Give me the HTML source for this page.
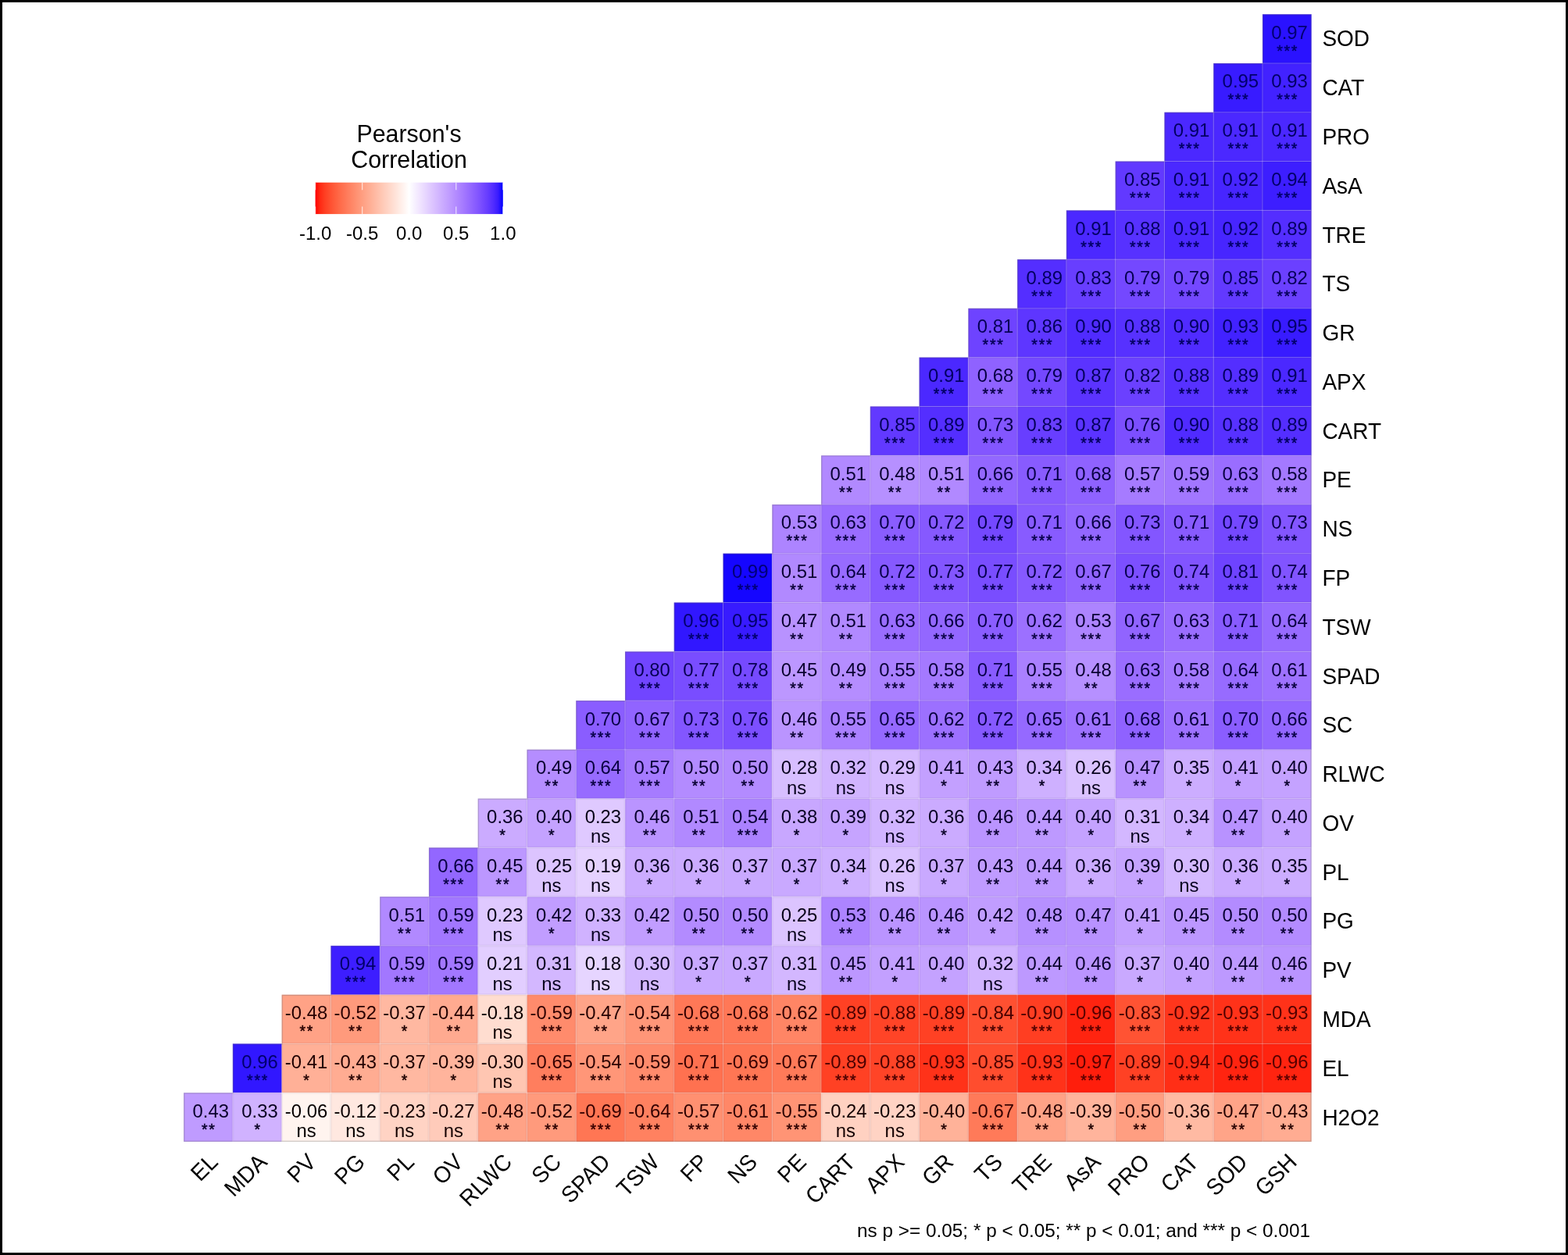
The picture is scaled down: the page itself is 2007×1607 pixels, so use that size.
<!DOCTYPE html>
<html lang="en">
<head>
<meta charset="utf-8">
<title>Pearson's Correlation heatmap</title>
<style>
html,body{margin:0;padding:0;background:#fff;}
body{width:2007px;height:1607px;overflow:hidden;position:relative;}
#frame{position:absolute;left:0;top:0;width:2007px;height:1607px;box-sizing:border-box;border:3px solid #000;background:#fff;}
svg{position:absolute;left:0;top:0;}
text{font-family:"Liberation Sans",sans-serif;fill:#000;}
.v{font-size:23.9px;text-anchor:middle;}
.n{font-size:23.9px;text-anchor:middle;}
.s{font-size:19.6px;text-anchor:middle;letter-spacing:1.7px;stroke:#000;stroke-width:0.45px;}
.yl{font-size:28px;text-anchor:start;}
.xl{font-size:28px;text-anchor:end;}
.lt{font-size:30.4px;text-anchor:middle;}
.ll{font-size:24px;text-anchor:middle;}
.cap{font-size:24.35px;text-anchor:end;}
</style>
</head>
<body>
<div id="frame"></div>
<svg width="2007" height="1607" viewBox="0 0 2007 1607">
<defs>
<linearGradient id="lg" x1="0" y1="0" x2="1" y2="0">
<stop offset="0.00%" stop-color="#ff0000"/>
<stop offset="2.50%" stop-color="#ff2913"/>
<stop offset="5.00%" stop-color="#ff3e22"/>
<stop offset="7.50%" stop-color="#ff4d2e"/>
<stop offset="10.00%" stop-color="#ff5b3a"/>
<stop offset="12.50%" stop-color="#ff6846"/>
<stop offset="15.00%" stop-color="#ff7352"/>
<stop offset="17.50%" stop-color="#ff7e5e"/>
<stop offset="20.00%" stop-color="#ff8969"/>
<stop offset="22.50%" stop-color="#ff9475"/>
<stop offset="25.00%" stop-color="#ff9e81"/>
<stop offset="27.50%" stop-color="#ffa88d"/>
<stop offset="30.00%" stop-color="#ffb299"/>
<stop offset="32.50%" stop-color="#ffbca6"/>
<stop offset="35.00%" stop-color="#ffc6b2"/>
<stop offset="37.50%" stop-color="#ffcfbf"/>
<stop offset="40.00%" stop-color="#ffd9cb"/>
<stop offset="42.50%" stop-color="#ffe2d8"/>
<stop offset="45.00%" stop-color="#ffece5"/>
<stop offset="47.50%" stop-color="#fff5f2"/>
<stop offset="50.00%" stop-color="#ffffff"/>
<stop offset="52.50%" stop-color="#f8f3ff"/>
<stop offset="55.00%" stop-color="#f2e7ff"/>
<stop offset="57.50%" stop-color="#ebdcff"/>
<stop offset="60.00%" stop-color="#e3d0ff"/>
<stop offset="62.50%" stop-color="#dcc4ff"/>
<stop offset="65.00%" stop-color="#d4b9ff"/>
<stop offset="67.50%" stop-color="#ccadff"/>
<stop offset="70.00%" stop-color="#c4a2ff"/>
<stop offset="72.50%" stop-color="#bc97ff"/>
<stop offset="75.00%" stop-color="#b38bff"/>
<stop offset="77.50%" stop-color="#aa80ff"/>
<stop offset="80.00%" stop-color="#a074ff"/>
<stop offset="82.50%" stop-color="#9569ff"/>
<stop offset="85.00%" stop-color="#8a5dff"/>
<stop offset="87.50%" stop-color="#7e52ff"/>
<stop offset="90.00%" stop-color="#7145ff"/>
<stop offset="92.50%" stop-color="#6239ff"/>
<stop offset="95.00%" stop-color="#502bff"/>
<stop offset="97.50%" stop-color="#381bff"/>
<stop offset="100.00%" stop-color="#0000ff"/>
</linearGradient>
</defs>
<g stroke="none">
<rect x="1615.93" y="18.20" width="62.77" height="63.07" fill="#2a12ff"/>
<rect x="1553.17" y="80.97" width="63.07" height="63.07" fill="#381bff"/>
<rect x="1615.93" y="80.97" width="62.77" height="63.07" fill="#4222ff"/>
<rect x="1490.40" y="143.75" width="63.07" height="63.07" fill="#4b28ff"/>
<rect x="1553.17" y="143.75" width="63.07" height="63.07" fill="#4b28ff"/>
<rect x="1615.93" y="143.75" width="62.77" height="63.07" fill="#4b28ff"/>
<rect x="1427.64" y="206.52" width="63.07" height="63.07" fill="#6239ff"/>
<rect x="1490.40" y="206.52" width="63.07" height="63.07" fill="#4b28ff"/>
<rect x="1553.17" y="206.52" width="63.07" height="63.07" fill="#4725ff"/>
<rect x="1615.93" y="206.52" width="62.77" height="63.07" fill="#3d1eff"/>
<rect x="1364.87" y="269.30" width="63.07" height="63.07" fill="#4b28ff"/>
<rect x="1427.64" y="269.30" width="63.07" height="63.07" fill="#5731ff"/>
<rect x="1490.40" y="269.30" width="63.07" height="63.07" fill="#4b28ff"/>
<rect x="1553.17" y="269.30" width="63.07" height="63.07" fill="#4725ff"/>
<rect x="1615.93" y="269.30" width="62.77" height="63.07" fill="#542eff"/>
<rect x="1302.11" y="332.07" width="63.07" height="63.07" fill="#542eff"/>
<rect x="1364.87" y="332.07" width="63.07" height="63.07" fill="#683eff"/>
<rect x="1427.64" y="332.07" width="63.07" height="63.07" fill="#7448ff"/>
<rect x="1490.40" y="332.07" width="63.07" height="63.07" fill="#7448ff"/>
<rect x="1553.17" y="332.07" width="63.07" height="63.07" fill="#6239ff"/>
<rect x="1615.93" y="332.07" width="62.77" height="63.07" fill="#6b40ff"/>
<rect x="1239.34" y="394.84" width="63.07" height="63.07" fill="#6e43ff"/>
<rect x="1302.11" y="394.84" width="63.07" height="63.07" fill="#5e36ff"/>
<rect x="1364.87" y="394.84" width="63.07" height="63.07" fill="#502bff"/>
<rect x="1427.64" y="394.84" width="63.07" height="63.07" fill="#5731ff"/>
<rect x="1490.40" y="394.84" width="63.07" height="63.07" fill="#502bff"/>
<rect x="1553.17" y="394.84" width="63.07" height="63.07" fill="#4222ff"/>
<rect x="1615.93" y="394.84" width="62.77" height="63.07" fill="#381bff"/>
<rect x="1176.58" y="457.62" width="63.07" height="63.07" fill="#4b28ff"/>
<rect x="1239.34" y="457.62" width="63.07" height="63.07" fill="#8f62ff"/>
<rect x="1302.11" y="457.62" width="63.07" height="63.07" fill="#7448ff"/>
<rect x="1364.87" y="457.62" width="63.07" height="63.07" fill="#5b33ff"/>
<rect x="1427.64" y="457.62" width="63.07" height="63.07" fill="#6b40ff"/>
<rect x="1490.40" y="457.62" width="63.07" height="63.07" fill="#5731ff"/>
<rect x="1553.17" y="457.62" width="63.07" height="63.07" fill="#542eff"/>
<rect x="1615.93" y="457.62" width="62.77" height="63.07" fill="#4b28ff"/>
<rect x="1113.81" y="520.39" width="63.07" height="63.07" fill="#6239ff"/>
<rect x="1176.58" y="520.39" width="63.07" height="63.07" fill="#542eff"/>
<rect x="1239.34" y="520.39" width="63.07" height="63.07" fill="#8356ff"/>
<rect x="1302.11" y="520.39" width="63.07" height="63.07" fill="#683eff"/>
<rect x="1364.87" y="520.39" width="63.07" height="63.07" fill="#5b33ff"/>
<rect x="1427.64" y="520.39" width="63.07" height="63.07" fill="#7c4fff"/>
<rect x="1490.40" y="520.39" width="63.07" height="63.07" fill="#502bff"/>
<rect x="1553.17" y="520.39" width="63.07" height="63.07" fill="#5731ff"/>
<rect x="1615.93" y="520.39" width="62.77" height="63.07" fill="#542eff"/>
<rect x="1051.05" y="583.17" width="63.07" height="63.07" fill="#b189ff"/>
<rect x="1113.81" y="583.17" width="63.07" height="63.07" fill="#b690ff"/>
<rect x="1176.58" y="583.17" width="63.07" height="63.07" fill="#b189ff"/>
<rect x="1239.34" y="583.17" width="63.07" height="63.07" fill="#9367ff"/>
<rect x="1302.11" y="583.17" width="63.07" height="63.07" fill="#885bff"/>
<rect x="1364.87" y="583.17" width="63.07" height="63.07" fill="#8f62ff"/>
<rect x="1427.64" y="583.17" width="63.07" height="63.07" fill="#a67bff"/>
<rect x="1490.40" y="583.17" width="63.07" height="63.07" fill="#a277ff"/>
<rect x="1553.17" y="583.17" width="63.07" height="63.07" fill="#9a6dff"/>
<rect x="1615.93" y="583.17" width="62.77" height="63.07" fill="#a479ff"/>
<rect x="988.28" y="645.94" width="63.07" height="63.07" fill="#ad84ff"/>
<rect x="1051.05" y="645.94" width="63.07" height="63.07" fill="#9a6dff"/>
<rect x="1113.81" y="645.94" width="63.07" height="63.07" fill="#8a5dff"/>
<rect x="1176.58" y="645.94" width="63.07" height="63.07" fill="#8659ff"/>
<rect x="1239.34" y="645.94" width="63.07" height="63.07" fill="#7448ff"/>
<rect x="1302.11" y="645.94" width="63.07" height="63.07" fill="#885bff"/>
<rect x="1364.87" y="645.94" width="63.07" height="63.07" fill="#9367ff"/>
<rect x="1427.64" y="645.94" width="63.07" height="63.07" fill="#8356ff"/>
<rect x="1490.40" y="645.94" width="63.07" height="63.07" fill="#885bff"/>
<rect x="1553.17" y="645.94" width="63.07" height="63.07" fill="#7448ff"/>
<rect x="1615.93" y="645.94" width="62.77" height="63.07" fill="#8356ff"/>
<rect x="925.52" y="708.71" width="63.07" height="63.07" fill="#1506ff"/>
<rect x="988.28" y="708.71" width="63.07" height="63.07" fill="#b189ff"/>
<rect x="1051.05" y="708.71" width="63.07" height="63.07" fill="#976bff"/>
<rect x="1113.81" y="708.71" width="63.07" height="63.07" fill="#8659ff"/>
<rect x="1176.58" y="708.71" width="63.07" height="63.07" fill="#8356ff"/>
<rect x="1239.34" y="708.71" width="63.07" height="63.07" fill="#794dff"/>
<rect x="1302.11" y="708.71" width="63.07" height="63.07" fill="#8659ff"/>
<rect x="1364.87" y="708.71" width="63.07" height="63.07" fill="#9164ff"/>
<rect x="1427.64" y="708.71" width="63.07" height="63.07" fill="#7c4fff"/>
<rect x="1490.40" y="708.71" width="63.07" height="63.07" fill="#8154ff"/>
<rect x="1553.17" y="708.71" width="63.07" height="63.07" fill="#6e43ff"/>
<rect x="1615.93" y="708.71" width="62.77" height="63.07" fill="#8154ff"/>
<rect x="862.75" y="771.49" width="63.07" height="63.07" fill="#3117ff"/>
<rect x="925.52" y="771.49" width="63.07" height="63.07" fill="#381bff"/>
<rect x="988.28" y="771.49" width="63.07" height="63.07" fill="#b892ff"/>
<rect x="1051.05" y="771.49" width="63.07" height="63.07" fill="#b189ff"/>
<rect x="1113.81" y="771.49" width="63.07" height="63.07" fill="#9a6dff"/>
<rect x="1176.58" y="771.49" width="63.07" height="63.07" fill="#9367ff"/>
<rect x="1239.34" y="771.49" width="63.07" height="63.07" fill="#8a5dff"/>
<rect x="1302.11" y="771.49" width="63.07" height="63.07" fill="#9c70ff"/>
<rect x="1364.87" y="771.49" width="63.07" height="63.07" fill="#ad84ff"/>
<rect x="1427.64" y="771.49" width="63.07" height="63.07" fill="#9164ff"/>
<rect x="1490.40" y="771.49" width="63.07" height="63.07" fill="#9a6dff"/>
<rect x="1553.17" y="771.49" width="63.07" height="63.07" fill="#885bff"/>
<rect x="1615.93" y="771.49" width="62.77" height="63.07" fill="#976bff"/>
<rect x="799.99" y="834.26" width="63.07" height="63.07" fill="#7145ff"/>
<rect x="862.75" y="834.26" width="63.07" height="63.07" fill="#794dff"/>
<rect x="925.52" y="834.26" width="63.07" height="63.07" fill="#764aff"/>
<rect x="988.28" y="834.26" width="63.07" height="63.07" fill="#bc97ff"/>
<rect x="1051.05" y="834.26" width="63.07" height="63.07" fill="#b58dff"/>
<rect x="1113.81" y="834.26" width="63.07" height="63.07" fill="#aa80ff"/>
<rect x="1176.58" y="834.26" width="63.07" height="63.07" fill="#a479ff"/>
<rect x="1239.34" y="834.26" width="63.07" height="63.07" fill="#885bff"/>
<rect x="1302.11" y="834.26" width="63.07" height="63.07" fill="#aa80ff"/>
<rect x="1364.87" y="834.26" width="63.07" height="63.07" fill="#b690ff"/>
<rect x="1427.64" y="834.26" width="63.07" height="63.07" fill="#9a6dff"/>
<rect x="1490.40" y="834.26" width="63.07" height="63.07" fill="#a479ff"/>
<rect x="1553.17" y="834.26" width="63.07" height="63.07" fill="#976bff"/>
<rect x="1615.93" y="834.26" width="62.77" height="63.07" fill="#9e72ff"/>
<rect x="737.22" y="897.03" width="63.07" height="63.07" fill="#8a5dff"/>
<rect x="799.99" y="897.03" width="63.07" height="63.07" fill="#9164ff"/>
<rect x="862.75" y="897.03" width="63.07" height="63.07" fill="#8356ff"/>
<rect x="925.52" y="897.03" width="63.07" height="63.07" fill="#7c4fff"/>
<rect x="988.28" y="897.03" width="63.07" height="63.07" fill="#ba94ff"/>
<rect x="1051.05" y="897.03" width="63.07" height="63.07" fill="#aa80ff"/>
<rect x="1113.81" y="897.03" width="63.07" height="63.07" fill="#9569ff"/>
<rect x="1176.58" y="897.03" width="63.07" height="63.07" fill="#9c70ff"/>
<rect x="1239.34" y="897.03" width="63.07" height="63.07" fill="#8659ff"/>
<rect x="1302.11" y="897.03" width="63.07" height="63.07" fill="#9569ff"/>
<rect x="1364.87" y="897.03" width="63.07" height="63.07" fill="#9e72ff"/>
<rect x="1427.64" y="897.03" width="63.07" height="63.07" fill="#8f62ff"/>
<rect x="1490.40" y="897.03" width="63.07" height="63.07" fill="#9e72ff"/>
<rect x="1553.17" y="897.03" width="63.07" height="63.07" fill="#8a5dff"/>
<rect x="1615.93" y="897.03" width="62.77" height="63.07" fill="#9367ff"/>
<rect x="674.46" y="959.81" width="63.07" height="63.07" fill="#b58dff"/>
<rect x="737.22" y="959.81" width="63.07" height="63.07" fill="#976bff"/>
<rect x="799.99" y="959.81" width="63.07" height="63.07" fill="#a67bff"/>
<rect x="862.75" y="959.81" width="63.07" height="63.07" fill="#b38bff"/>
<rect x="925.52" y="959.81" width="63.07" height="63.07" fill="#b38bff"/>
<rect x="988.28" y="959.81" width="63.07" height="63.07" fill="#d7beff"/>
<rect x="1051.05" y="959.81" width="63.07" height="63.07" fill="#d1b4ff"/>
<rect x="1113.81" y="959.81" width="63.07" height="63.07" fill="#d6bbff"/>
<rect x="1176.58" y="959.81" width="63.07" height="63.07" fill="#c3a0ff"/>
<rect x="1239.34" y="959.81" width="63.07" height="63.07" fill="#bf9bff"/>
<rect x="1302.11" y="959.81" width="63.07" height="63.07" fill="#ceb0ff"/>
<rect x="1364.87" y="959.81" width="63.07" height="63.07" fill="#dac2ff"/>
<rect x="1427.64" y="959.81" width="63.07" height="63.07" fill="#b892ff"/>
<rect x="1490.40" y="959.81" width="63.07" height="63.07" fill="#ccadff"/>
<rect x="1553.17" y="959.81" width="63.07" height="63.07" fill="#c3a0ff"/>
<rect x="1615.93" y="959.81" width="62.77" height="63.07" fill="#c4a2ff"/>
<rect x="611.69" y="1022.58" width="63.07" height="63.07" fill="#cbabff"/>
<rect x="674.46" y="1022.58" width="63.07" height="63.07" fill="#c4a2ff"/>
<rect x="737.22" y="1022.58" width="63.07" height="63.07" fill="#dfc9ff"/>
<rect x="799.99" y="1022.58" width="63.07" height="63.07" fill="#ba94ff"/>
<rect x="862.75" y="1022.58" width="63.07" height="63.07" fill="#b189ff"/>
<rect x="925.52" y="1022.58" width="63.07" height="63.07" fill="#ab82ff"/>
<rect x="988.28" y="1022.58" width="63.07" height="63.07" fill="#c8a7ff"/>
<rect x="1051.05" y="1022.58" width="63.07" height="63.07" fill="#c6a4ff"/>
<rect x="1113.81" y="1022.58" width="63.07" height="63.07" fill="#d1b4ff"/>
<rect x="1176.58" y="1022.58" width="63.07" height="63.07" fill="#cbabff"/>
<rect x="1239.34" y="1022.58" width="63.07" height="63.07" fill="#ba94ff"/>
<rect x="1302.11" y="1022.58" width="63.07" height="63.07" fill="#bd99ff"/>
<rect x="1364.87" y="1022.58" width="63.07" height="63.07" fill="#c4a2ff"/>
<rect x="1427.64" y="1022.58" width="63.07" height="63.07" fill="#d3b7ff"/>
<rect x="1490.40" y="1022.58" width="63.07" height="63.07" fill="#ceb0ff"/>
<rect x="1553.17" y="1022.58" width="63.07" height="63.07" fill="#b892ff"/>
<rect x="1615.93" y="1022.58" width="62.77" height="63.07" fill="#c4a2ff"/>
<rect x="548.93" y="1085.36" width="63.07" height="63.07" fill="#9367ff"/>
<rect x="611.69" y="1085.36" width="63.07" height="63.07" fill="#bc97ff"/>
<rect x="674.46" y="1085.36" width="63.07" height="63.07" fill="#dcc4ff"/>
<rect x="737.22" y="1085.36" width="63.07" height="63.07" fill="#e5d2ff"/>
<rect x="799.99" y="1085.36" width="63.07" height="63.07" fill="#cbabff"/>
<rect x="862.75" y="1085.36" width="63.07" height="63.07" fill="#cbabff"/>
<rect x="925.52" y="1085.36" width="63.07" height="63.07" fill="#c9a9ff"/>
<rect x="988.28" y="1085.36" width="63.07" height="63.07" fill="#c9a9ff"/>
<rect x="1051.05" y="1085.36" width="63.07" height="63.07" fill="#ceb0ff"/>
<rect x="1113.81" y="1085.36" width="63.07" height="63.07" fill="#dac2ff"/>
<rect x="1176.58" y="1085.36" width="63.07" height="63.07" fill="#c9a9ff"/>
<rect x="1239.34" y="1085.36" width="63.07" height="63.07" fill="#bf9bff"/>
<rect x="1302.11" y="1085.36" width="63.07" height="63.07" fill="#bd99ff"/>
<rect x="1364.87" y="1085.36" width="63.07" height="63.07" fill="#cbabff"/>
<rect x="1427.64" y="1085.36" width="63.07" height="63.07" fill="#c6a4ff"/>
<rect x="1490.40" y="1085.36" width="63.07" height="63.07" fill="#d4b9ff"/>
<rect x="1553.17" y="1085.36" width="63.07" height="63.07" fill="#cbabff"/>
<rect x="1615.93" y="1085.36" width="62.77" height="63.07" fill="#ccadff"/>
<rect x="486.16" y="1148.13" width="63.07" height="63.07" fill="#b189ff"/>
<rect x="548.93" y="1148.13" width="63.07" height="63.07" fill="#a277ff"/>
<rect x="611.69" y="1148.13" width="63.07" height="63.07" fill="#dfc9ff"/>
<rect x="674.46" y="1148.13" width="63.07" height="63.07" fill="#c19dff"/>
<rect x="737.22" y="1148.13" width="63.07" height="63.07" fill="#d0b2ff"/>
<rect x="799.99" y="1148.13" width="63.07" height="63.07" fill="#c19dff"/>
<rect x="862.75" y="1148.13" width="63.07" height="63.07" fill="#b38bff"/>
<rect x="925.52" y="1148.13" width="63.07" height="63.07" fill="#b38bff"/>
<rect x="988.28" y="1148.13" width="63.07" height="63.07" fill="#dcc4ff"/>
<rect x="1051.05" y="1148.13" width="63.07" height="63.07" fill="#ad84ff"/>
<rect x="1113.81" y="1148.13" width="63.07" height="63.07" fill="#ba94ff"/>
<rect x="1176.58" y="1148.13" width="63.07" height="63.07" fill="#ba94ff"/>
<rect x="1239.34" y="1148.13" width="63.07" height="63.07" fill="#c19dff"/>
<rect x="1302.11" y="1148.13" width="63.07" height="63.07" fill="#b690ff"/>
<rect x="1364.87" y="1148.13" width="63.07" height="63.07" fill="#b892ff"/>
<rect x="1427.64" y="1148.13" width="63.07" height="63.07" fill="#c3a0ff"/>
<rect x="1490.40" y="1148.13" width="63.07" height="63.07" fill="#bc97ff"/>
<rect x="1553.17" y="1148.13" width="63.07" height="63.07" fill="#b38bff"/>
<rect x="1615.93" y="1148.13" width="62.77" height="63.07" fill="#b38bff"/>
<rect x="423.40" y="1210.90" width="63.07" height="63.07" fill="#3d1eff"/>
<rect x="486.16" y="1210.90" width="63.07" height="63.07" fill="#a277ff"/>
<rect x="548.93" y="1210.90" width="63.07" height="63.07" fill="#a277ff"/>
<rect x="611.69" y="1210.90" width="63.07" height="63.07" fill="#e2ceff"/>
<rect x="674.46" y="1210.90" width="63.07" height="63.07" fill="#d3b7ff"/>
<rect x="737.22" y="1210.90" width="63.07" height="63.07" fill="#e6d5ff"/>
<rect x="799.99" y="1210.90" width="63.07" height="63.07" fill="#d4b9ff"/>
<rect x="862.75" y="1210.90" width="63.07" height="63.07" fill="#c9a9ff"/>
<rect x="925.52" y="1210.90" width="63.07" height="63.07" fill="#c9a9ff"/>
<rect x="988.28" y="1210.90" width="63.07" height="63.07" fill="#d3b7ff"/>
<rect x="1051.05" y="1210.90" width="63.07" height="63.07" fill="#bc97ff"/>
<rect x="1113.81" y="1210.90" width="63.07" height="63.07" fill="#c3a0ff"/>
<rect x="1176.58" y="1210.90" width="63.07" height="63.07" fill="#c4a2ff"/>
<rect x="1239.34" y="1210.90" width="63.07" height="63.07" fill="#d1b4ff"/>
<rect x="1302.11" y="1210.90" width="63.07" height="63.07" fill="#bd99ff"/>
<rect x="1364.87" y="1210.90" width="63.07" height="63.07" fill="#ba94ff"/>
<rect x="1427.64" y="1210.90" width="63.07" height="63.07" fill="#c9a9ff"/>
<rect x="1490.40" y="1210.90" width="63.07" height="63.07" fill="#c4a2ff"/>
<rect x="1553.17" y="1210.90" width="63.07" height="63.07" fill="#bd99ff"/>
<rect x="1615.93" y="1210.90" width="62.77" height="63.07" fill="#ba94ff"/>
<rect x="360.63" y="1273.68" width="63.07" height="63.07" fill="#ffa286"/>
<rect x="423.40" y="1273.68" width="63.07" height="63.07" fill="#ff9a7c"/>
<rect x="486.16" y="1273.68" width="63.07" height="63.07" fill="#ffb8a1"/>
<rect x="548.93" y="1273.68" width="63.07" height="63.07" fill="#ffaa90"/>
<rect x="611.69" y="1273.68" width="63.07" height="63.07" fill="#ffddd0"/>
<rect x="674.46" y="1273.68" width="63.07" height="63.07" fill="#ff8b6c"/>
<rect x="737.22" y="1273.68" width="63.07" height="63.07" fill="#ffa488"/>
<rect x="799.99" y="1273.68" width="63.07" height="63.07" fill="#ff9678"/>
<rect x="862.75" y="1273.68" width="63.07" height="63.07" fill="#ff7857"/>
<rect x="925.52" y="1273.68" width="63.07" height="63.07" fill="#ff7857"/>
<rect x="988.28" y="1273.68" width="63.07" height="63.07" fill="#ff8565"/>
<rect x="1051.05" y="1273.68" width="63.07" height="63.07" fill="#ff4124"/>
<rect x="1113.81" y="1273.68" width="63.07" height="63.07" fill="#ff4427"/>
<rect x="1176.58" y="1273.68" width="63.07" height="63.07" fill="#ff4124"/>
<rect x="1239.34" y="1273.68" width="63.07" height="63.07" fill="#ff5031"/>
<rect x="1302.11" y="1273.68" width="63.07" height="63.07" fill="#ff3e22"/>
<rect x="1364.87" y="1273.68" width="63.07" height="63.07" fill="#ff2410"/>
<rect x="1427.64" y="1273.68" width="63.07" height="63.07" fill="#ff5333"/>
<rect x="1490.40" y="1273.68" width="63.07" height="63.07" fill="#ff361c"/>
<rect x="1553.17" y="1273.68" width="63.07" height="63.07" fill="#ff3219"/>
<rect x="1615.93" y="1273.68" width="62.77" height="63.07" fill="#ff3219"/>
<rect x="297.87" y="1336.45" width="63.07" height="63.07" fill="#3117ff"/>
<rect x="360.63" y="1336.45" width="63.07" height="63.07" fill="#ffb097"/>
<rect x="423.40" y="1336.45" width="63.07" height="63.07" fill="#ffac92"/>
<rect x="486.16" y="1336.45" width="63.07" height="63.07" fill="#ffb8a1"/>
<rect x="548.93" y="1336.45" width="63.07" height="63.07" fill="#ffb49c"/>
<rect x="611.69" y="1336.45" width="63.07" height="63.07" fill="#ffc6b2"/>
<rect x="674.46" y="1336.45" width="63.07" height="63.07" fill="#ff7e5e"/>
<rect x="737.22" y="1336.45" width="63.07" height="63.07" fill="#ff9678"/>
<rect x="799.99" y="1336.45" width="63.07" height="63.07" fill="#ff8b6c"/>
<rect x="862.75" y="1336.45" width="63.07" height="63.07" fill="#ff7150"/>
<rect x="925.52" y="1336.45" width="63.07" height="63.07" fill="#ff7654"/>
<rect x="988.28" y="1336.45" width="63.07" height="63.07" fill="#ff7a59"/>
<rect x="1051.05" y="1336.45" width="63.07" height="63.07" fill="#ff4124"/>
<rect x="1113.81" y="1336.45" width="63.07" height="63.07" fill="#ff4427"/>
<rect x="1176.58" y="1336.45" width="63.07" height="63.07" fill="#ff3219"/>
<rect x="1239.34" y="1336.45" width="63.07" height="63.07" fill="#ff4d2e"/>
<rect x="1302.11" y="1336.45" width="63.07" height="63.07" fill="#ff3219"/>
<rect x="1364.87" y="1336.45" width="63.07" height="63.07" fill="#ff1e0c"/>
<rect x="1427.64" y="1336.45" width="63.07" height="63.07" fill="#ff4124"/>
<rect x="1490.40" y="1336.45" width="63.07" height="63.07" fill="#ff2e16"/>
<rect x="1553.17" y="1336.45" width="63.07" height="63.07" fill="#ff2410"/>
<rect x="1615.93" y="1336.45" width="62.77" height="63.07" fill="#ff2410"/>
<rect x="235.10" y="1399.23" width="63.07" height="62.77" fill="#bf9bff"/>
<rect x="297.87" y="1399.23" width="63.07" height="62.77" fill="#d0b2ff"/>
<rect x="360.63" y="1399.23" width="63.07" height="62.77" fill="#fff4ef"/>
<rect x="423.40" y="1399.23" width="63.07" height="62.77" fill="#ffe8e0"/>
<rect x="486.16" y="1399.23" width="63.07" height="62.77" fill="#ffd3c4"/>
<rect x="548.93" y="1399.23" width="63.07" height="62.77" fill="#ffcbba"/>
<rect x="611.69" y="1399.23" width="63.07" height="62.77" fill="#ffa286"/>
<rect x="674.46" y="1399.23" width="63.07" height="62.77" fill="#ff9a7c"/>
<rect x="737.22" y="1399.23" width="63.07" height="62.77" fill="#ff7654"/>
<rect x="799.99" y="1399.23" width="63.07" height="62.77" fill="#ff8160"/>
<rect x="862.75" y="1399.23" width="63.07" height="62.77" fill="#ff9071"/>
<rect x="925.52" y="1399.23" width="63.07" height="62.77" fill="#ff8767"/>
<rect x="988.28" y="1399.23" width="63.07" height="62.77" fill="#ff9475"/>
<rect x="1051.05" y="1399.23" width="63.07" height="62.77" fill="#ffd1c1"/>
<rect x="1113.81" y="1399.23" width="63.07" height="62.77" fill="#ffd3c4"/>
<rect x="1176.58" y="1399.23" width="63.07" height="62.77" fill="#ffb299"/>
<rect x="1239.34" y="1399.23" width="63.07" height="62.77" fill="#ff7a59"/>
<rect x="1302.11" y="1399.23" width="63.07" height="62.77" fill="#ffa286"/>
<rect x="1364.87" y="1399.23" width="63.07" height="62.77" fill="#ffb49c"/>
<rect x="1427.64" y="1399.23" width="63.07" height="62.77" fill="#ff9e81"/>
<rect x="1490.40" y="1399.23" width="63.07" height="62.77" fill="#ffbaa3"/>
<rect x="1553.17" y="1399.23" width="63.07" height="62.77" fill="#ffa488"/>
<rect x="1615.93" y="1399.23" width="62.77" height="62.77" fill="#ffac92"/>
</g>
<clipPath id="tri"><polygon points="1678.70,18.20 1678.70,1462.00 235.10,1462.00 235.10,1462.00 235.10,1399.23 297.87,1399.23 297.87,1336.45 360.63,1336.45 360.63,1273.68 423.40,1273.68 423.40,1210.90 486.16,1210.90 486.16,1148.13 548.93,1148.13 548.93,1085.36 611.69,1085.36 611.69,1022.58 674.46,1022.58 674.46,959.81 737.22,959.81 737.22,897.03 799.99,897.03 799.99,834.26 862.75,834.26 862.75,771.49 925.52,771.49 925.52,708.71 988.28,708.71 988.28,645.94 1051.05,645.94 1051.05,583.17 1113.81,583.17 1113.81,520.39 1176.58,520.39 1176.58,457.62 1239.34,457.62 1239.34,394.84 1302.11,394.84 1302.11,332.07 1364.87,332.07 1364.87,269.30 1427.64,269.30 1427.64,206.52 1490.40,206.52 1490.40,143.75 1553.17,143.75 1553.17,80.97 1615.93,80.97 1615.93,18.20"/></clipPath>
<path d="M1615.93 18.20H1678.70M1553.17 80.97H1678.70M1490.40 143.75H1678.70M1427.64 206.52H1678.70M1364.87 269.30H1678.70M1302.11 332.07H1678.70M1239.34 394.84H1678.70M1176.58 457.62H1678.70M1113.81 520.39H1678.70M1051.05 583.17H1678.70M988.28 645.94H1678.70M925.52 708.71H1678.70M862.75 771.49H1678.70M799.99 834.26H1678.70M737.22 897.03H1678.70M674.46 959.81H1678.70M611.69 1022.58H1678.70M548.93 1085.36H1678.70M486.16 1148.13H1678.70M423.40 1210.90H1678.70M360.63 1273.68H1678.70M297.87 1336.45H1678.70M235.10 1399.23H1678.70M235.10 1462.00H1678.70M235.10 1399.23V1462.00M297.87 1336.45V1462.00M360.63 1273.68V1462.00M423.40 1210.90V1462.00M486.16 1148.13V1462.00M548.93 1085.36V1462.00M611.69 1022.58V1462.00M674.46 959.81V1462.00M737.22 897.03V1462.00M799.99 834.26V1462.00M862.75 771.49V1462.00M925.52 708.71V1462.00M988.28 645.94V1462.00M1051.05 583.17V1462.00M1113.81 520.39V1462.00M1176.58 457.62V1462.00M1239.34 394.84V1462.00M1302.11 332.07V1462.00M1364.87 269.30V1462.00M1427.64 206.52V1462.00M1490.40 143.75V1462.00M1553.17 80.97V1462.00M1615.93 18.20V1462.00M1678.70 18.20V1462.00" clip-path="url(#tri)" fill="none" stroke="#201040" stroke-width="3.0" stroke-opacity="0.05"/>
<path d="M1615.93 18.20H1678.70M1553.17 80.97H1678.70M1490.40 143.75H1678.70M1427.64 206.52H1678.70M1364.87 269.30H1678.70M1302.11 332.07H1678.70M1239.34 394.84H1678.70M1176.58 457.62H1678.70M1113.81 520.39H1678.70M1051.05 583.17H1678.70M988.28 645.94H1678.70M925.52 708.71H1678.70M862.75 771.49H1678.70M799.99 834.26H1678.70M737.22 897.03H1678.70M674.46 959.81H1678.70M611.69 1022.58H1678.70M548.93 1085.36H1678.70M486.16 1148.13H1678.70M423.40 1210.90H1678.70M360.63 1273.68H1678.70M297.87 1336.45H1678.70M235.10 1399.23H1678.70M235.10 1462.00H1678.70M235.10 1399.23V1462.00M297.87 1336.45V1462.00M360.63 1273.68V1462.00M423.40 1210.90V1462.00M486.16 1148.13V1462.00M548.93 1085.36V1462.00M611.69 1022.58V1462.00M674.46 959.81V1462.00M737.22 897.03V1462.00M799.99 834.26V1462.00M862.75 771.49V1462.00M925.52 708.71V1462.00M988.28 645.94V1462.00M1051.05 583.17V1462.00M1113.81 520.39V1462.00M1176.58 457.62V1462.00M1239.34 394.84V1462.00M1302.11 332.07V1462.00M1364.87 269.30V1462.00M1427.64 206.52V1462.00M1490.40 143.75V1462.00M1553.17 80.97V1462.00M1615.93 18.20V1462.00M1678.70 18.20V1462.00" clip-path="url(#tri)" fill="none" stroke="#ffffff" stroke-width="1.0" stroke-opacity="0.26"/>
<polygon points="1678.70,18.20 1678.70,1462.00 235.10,1462.00 235.10,1462.00 235.10,1399.23 297.87,1399.23 297.87,1336.45 360.63,1336.45 360.63,1273.68 423.40,1273.68 423.40,1210.90 486.16,1210.90 486.16,1148.13 548.93,1148.13 548.93,1085.36 611.69,1085.36 611.69,1022.58 674.46,1022.58 674.46,959.81 737.22,959.81 737.22,897.03 799.99,897.03 799.99,834.26 862.75,834.26 862.75,771.49 925.52,771.49 925.52,708.71 988.28,708.71 988.28,645.94 1051.05,645.94 1051.05,583.17 1113.81,583.17 1113.81,520.39 1176.58,520.39 1176.58,457.62 1239.34,457.62 1239.34,394.84 1302.11,394.84 1302.11,332.07 1364.87,332.07 1364.87,269.30 1427.64,269.30 1427.64,206.52 1490.40,206.52 1490.40,143.75 1553.17,143.75 1553.17,80.97 1615.93,80.97 1615.93,18.20" clip-path="url(#tri)" fill="none" stroke="#606060" stroke-width="2.4" stroke-opacity="0.24"/>
<g>
<text class="v" transform="translate(1650.62 49.70) scale(1 1.02)" style="fill:#000070">0.97</text><text class="s" transform="translate(1648.17 71.70)" style="fill:#000070;stroke:#000070">***</text>
<text class="v" transform="translate(1587.85 112.47) scale(1 1.02)" style="fill:#00006a">0.95</text><text class="s" transform="translate(1585.40 134.47)" style="fill:#00006a;stroke:#00006a">***</text>
<text class="v" transform="translate(1650.62 112.47) scale(1 1.02)" style="fill:#000066">0.93</text><text class="s" transform="translate(1648.17 134.47)" style="fill:#000066;stroke:#000066">***</text>
<text class="v" transform="translate(1525.09 175.25) scale(1 1.02)" style="fill:#000063">0.91</text><text class="s" transform="translate(1522.64 197.25)" style="fill:#000063;stroke:#000063">***</text>
<text class="v" transform="translate(1587.85 175.25) scale(1 1.02)" style="fill:#000063">0.91</text><text class="s" transform="translate(1585.40 197.25)" style="fill:#000063;stroke:#000063">***</text>
<text class="v" transform="translate(1650.62 175.25) scale(1 1.02)" style="fill:#000063">0.91</text><text class="s" transform="translate(1648.17 197.25)" style="fill:#000063;stroke:#000063">***</text>
<text class="v" transform="translate(1462.32 238.02) scale(1 1.02)" style="fill:#03005a">0.85</text><text class="s" transform="translate(1459.87 260.02)" style="fill:#03005a;stroke:#03005a">***</text>
<text class="v" transform="translate(1525.09 238.02) scale(1 1.02)" style="fill:#000063">0.91</text><text class="s" transform="translate(1522.64 260.02)" style="fill:#000063;stroke:#000063">***</text>
<text class="v" transform="translate(1587.85 238.02) scale(1 1.02)" style="fill:#000065">0.92</text><text class="s" transform="translate(1585.40 260.02)" style="fill:#000065;stroke:#000065">***</text>
<text class="v" transform="translate(1650.62 238.02) scale(1 1.02)" style="fill:#000069">0.94</text><text class="s" transform="translate(1648.17 260.02)" style="fill:#000069;stroke:#000069">***</text>
<text class="v" transform="translate(1399.56 300.80) scale(1 1.02)" style="fill:#000063">0.91</text><text class="s" transform="translate(1397.11 322.80)" style="fill:#000063;stroke:#000063">***</text>
<text class="v" transform="translate(1462.32 300.80) scale(1 1.02)" style="fill:#02005e">0.88</text><text class="s" transform="translate(1459.87 322.80)" style="fill:#02005e;stroke:#02005e">***</text>
<text class="v" transform="translate(1525.09 300.80) scale(1 1.02)" style="fill:#000063">0.91</text><text class="s" transform="translate(1522.64 322.80)" style="fill:#000063;stroke:#000063">***</text>
<text class="v" transform="translate(1587.85 300.80) scale(1 1.02)" style="fill:#000065">0.92</text><text class="s" transform="translate(1585.40 322.80)" style="fill:#000065;stroke:#000065">***</text>
<text class="v" transform="translate(1650.62 300.80) scale(1 1.02)" style="fill:#020060">0.89</text><text class="s" transform="translate(1648.17 322.80)" style="fill:#020060;stroke:#020060">***</text>
<text class="v" transform="translate(1336.79 363.57) scale(1 1.02)" style="fill:#020060">0.89</text><text class="s" transform="translate(1334.34 385.57)" style="fill:#020060;stroke:#020060">***</text>
<text class="v" transform="translate(1399.56 363.57) scale(1 1.02)" style="fill:#040057">0.83</text><text class="s" transform="translate(1397.11 385.57)" style="fill:#040057;stroke:#040057">***</text>
<text class="v" transform="translate(1462.32 363.57) scale(1 1.02)" style="fill:#050052">0.79</text><text class="s" transform="translate(1459.87 385.57)" style="fill:#050052;stroke:#050052">***</text>
<text class="v" transform="translate(1525.09 363.57) scale(1 1.02)" style="fill:#050052">0.79</text><text class="s" transform="translate(1522.64 385.57)" style="fill:#050052;stroke:#050052">***</text>
<text class="v" transform="translate(1587.85 363.57) scale(1 1.02)" style="fill:#03005a">0.85</text><text class="s" transform="translate(1585.40 385.57)" style="fill:#03005a;stroke:#03005a">***</text>
<text class="v" transform="translate(1650.62 363.57) scale(1 1.02)" style="fill:#050056">0.82</text><text class="s" transform="translate(1648.17 385.57)" style="fill:#050056;stroke:#050056">***</text>
<text class="v" transform="translate(1274.03 426.34) scale(1 1.02)" style="fill:#050055">0.81</text><text class="s" transform="translate(1271.58 448.34)" style="fill:#050055;stroke:#050055">***</text>
<text class="v" transform="translate(1336.79 426.34) scale(1 1.02)" style="fill:#03005b">0.86</text><text class="s" transform="translate(1334.34 448.34)" style="fill:#03005b;stroke:#03005b">***</text>
<text class="v" transform="translate(1399.56 426.34) scale(1 1.02)" style="fill:#010061">0.90</text><text class="s" transform="translate(1397.11 448.34)" style="fill:#010061;stroke:#010061">***</text>
<text class="v" transform="translate(1462.32 426.34) scale(1 1.02)" style="fill:#02005e">0.88</text><text class="s" transform="translate(1459.87 448.34)" style="fill:#02005e;stroke:#02005e">***</text>
<text class="v" transform="translate(1525.09 426.34) scale(1 1.02)" style="fill:#010061">0.90</text><text class="s" transform="translate(1522.64 448.34)" style="fill:#010061;stroke:#010061">***</text>
<text class="v" transform="translate(1587.85 426.34) scale(1 1.02)" style="fill:#000066">0.93</text><text class="s" transform="translate(1585.40 448.34)" style="fill:#000066;stroke:#000066">***</text>
<text class="v" transform="translate(1650.62 426.34) scale(1 1.02)" style="fill:#00006a">0.95</text><text class="s" transform="translate(1648.17 448.34)" style="fill:#00006a;stroke:#00006a">***</text>
<text class="v" transform="translate(1211.26 489.12) scale(1 1.02)" style="fill:#000063">0.91</text><text class="s" transform="translate(1208.81 511.12)" style="fill:#000063;stroke:#000063">***</text>
<text class="v" transform="translate(1274.03 489.12) scale(1 1.02)" style="fill:#080045">0.68</text><text class="s" transform="translate(1271.58 511.12)" style="fill:#080045;stroke:#080045">***</text>
<text class="v" transform="translate(1336.79 489.12) scale(1 1.02)" style="fill:#050052">0.79</text><text class="s" transform="translate(1334.34 511.12)" style="fill:#050052;stroke:#050052">***</text>
<text class="v" transform="translate(1399.56 489.12) scale(1 1.02)" style="fill:#03005d">0.87</text><text class="s" transform="translate(1397.11 511.12)" style="fill:#03005d;stroke:#03005d">***</text>
<text class="v" transform="translate(1462.32 489.12) scale(1 1.02)" style="fill:#050056">0.82</text><text class="s" transform="translate(1459.87 511.12)" style="fill:#050056;stroke:#050056">***</text>
<text class="v" transform="translate(1525.09 489.12) scale(1 1.02)" style="fill:#02005e">0.88</text><text class="s" transform="translate(1522.64 511.12)" style="fill:#02005e;stroke:#02005e">***</text>
<text class="v" transform="translate(1587.85 489.12) scale(1 1.02)" style="fill:#020060">0.89</text><text class="s" transform="translate(1585.40 511.12)" style="fill:#020060;stroke:#020060">***</text>
<text class="v" transform="translate(1650.62 489.12) scale(1 1.02)" style="fill:#000063">0.91</text><text class="s" transform="translate(1648.17 511.12)" style="fill:#000063;stroke:#000063">***</text>
<text class="v" transform="translate(1148.50 551.89) scale(1 1.02)" style="fill:#03005a">0.85</text><text class="s" transform="translate(1146.05 573.89)" style="fill:#03005a;stroke:#03005a">***</text>
<text class="v" transform="translate(1211.26 551.89) scale(1 1.02)" style="fill:#020060">0.89</text><text class="s" transform="translate(1208.81 573.89)" style="fill:#020060;stroke:#020060">***</text>
<text class="v" transform="translate(1274.03 551.89) scale(1 1.02)" style="fill:#07004b">0.73</text><text class="s" transform="translate(1271.58 573.89)" style="fill:#07004b;stroke:#07004b">***</text>
<text class="v" transform="translate(1336.79 551.89) scale(1 1.02)" style="fill:#040057">0.83</text><text class="s" transform="translate(1334.34 573.89)" style="fill:#040057;stroke:#040057">***</text>
<text class="v" transform="translate(1399.56 551.89) scale(1 1.02)" style="fill:#03005d">0.87</text><text class="s" transform="translate(1397.11 573.89)" style="fill:#03005d;stroke:#03005d">***</text>
<text class="v" transform="translate(1462.32 551.89) scale(1 1.02)" style="fill:#06004e">0.76</text><text class="s" transform="translate(1459.87 573.89)" style="fill:#06004e;stroke:#06004e">***</text>
<text class="v" transform="translate(1525.09 551.89) scale(1 1.02)" style="fill:#010061">0.90</text><text class="s" transform="translate(1522.64 573.89)" style="fill:#010061;stroke:#010061">***</text>
<text class="v" transform="translate(1587.85 551.89) scale(1 1.02)" style="fill:#02005e">0.88</text><text class="s" transform="translate(1585.40 573.89)" style="fill:#02005e;stroke:#02005e">***</text>
<text class="v" transform="translate(1650.62 551.89) scale(1 1.02)" style="fill:#020060">0.89</text><text class="s" transform="translate(1648.17 573.89)" style="fill:#020060;stroke:#020060">***</text>
<text class="v" transform="translate(1085.73 614.67) scale(1 1.02)" style="fill:#080033">0.51</text><text class="s" transform="translate(1083.28 636.67)" style="fill:#080033;stroke:#080033">**</text>
<text class="v" transform="translate(1148.50 614.67) scale(1 1.02)" style="fill:#080030">0.48</text><text class="s" transform="translate(1146.05 636.67)" style="fill:#080030;stroke:#080030">**</text>
<text class="v" transform="translate(1211.26 614.67) scale(1 1.02)" style="fill:#080033">0.51</text><text class="s" transform="translate(1208.81 636.67)" style="fill:#080033;stroke:#080033">**</text>
<text class="v" transform="translate(1274.03 614.67) scale(1 1.02)" style="fill:#070043">0.66</text><text class="s" transform="translate(1271.58 636.67)" style="fill:#070043;stroke:#070043">***</text>
<text class="v" transform="translate(1336.79 614.67) scale(1 1.02)" style="fill:#070049">0.71</text><text class="s" transform="translate(1334.34 636.67)" style="fill:#070049;stroke:#070049">***</text>
<text class="v" transform="translate(1399.56 614.67) scale(1 1.02)" style="fill:#080045">0.68</text><text class="s" transform="translate(1397.11 636.67)" style="fill:#080045;stroke:#080045">***</text>
<text class="v" transform="translate(1462.32 614.67) scale(1 1.02)" style="fill:#080039">0.57</text><text class="s" transform="translate(1459.87 636.67)" style="fill:#080039;stroke:#080039">***</text>
<text class="v" transform="translate(1525.09 614.67) scale(1 1.02)" style="fill:#08003b">0.59</text><text class="s" transform="translate(1522.64 636.67)" style="fill:#08003b;stroke:#08003b">***</text>
<text class="v" transform="translate(1587.85 614.67) scale(1 1.02)" style="fill:#080040">0.63</text><text class="s" transform="translate(1585.40 636.67)" style="fill:#080040;stroke:#080040">***</text>
<text class="v" transform="translate(1650.62 614.67) scale(1 1.02)" style="fill:#08003a">0.58</text><text class="s" transform="translate(1648.17 636.67)" style="fill:#08003a;stroke:#08003a">***</text>
<text class="v" transform="translate(1022.97 677.44) scale(1 1.02)" style="fill:#080035">0.53</text><text class="s" transform="translate(1020.52 699.44)" style="fill:#080035;stroke:#080035">***</text>
<text class="v" transform="translate(1085.73 677.44) scale(1 1.02)" style="fill:#080040">0.63</text><text class="s" transform="translate(1083.28 699.44)" style="fill:#080040;stroke:#080040">***</text>
<text class="v" transform="translate(1148.50 677.44) scale(1 1.02)" style="fill:#070048">0.70</text><text class="s" transform="translate(1146.05 699.44)" style="fill:#070048;stroke:#070048">***</text>
<text class="v" transform="translate(1211.26 677.44) scale(1 1.02)" style="fill:#070049">0.72</text><text class="s" transform="translate(1208.81 699.44)" style="fill:#070049;stroke:#070049">***</text>
<text class="v" transform="translate(1274.03 677.44) scale(1 1.02)" style="fill:#050052">0.79</text><text class="s" transform="translate(1271.58 699.44)" style="fill:#050052;stroke:#050052">***</text>
<text class="v" transform="translate(1336.79 677.44) scale(1 1.02)" style="fill:#070049">0.71</text><text class="s" transform="translate(1334.34 699.44)" style="fill:#070049;stroke:#070049">***</text>
<text class="v" transform="translate(1399.56 677.44) scale(1 1.02)" style="fill:#070043">0.66</text><text class="s" transform="translate(1397.11 699.44)" style="fill:#070043;stroke:#070043">***</text>
<text class="v" transform="translate(1462.32 677.44) scale(1 1.02)" style="fill:#07004b">0.73</text><text class="s" transform="translate(1459.87 699.44)" style="fill:#07004b;stroke:#07004b">***</text>
<text class="v" transform="translate(1525.09 677.44) scale(1 1.02)" style="fill:#070049">0.71</text><text class="s" transform="translate(1522.64 699.44)" style="fill:#070049;stroke:#070049">***</text>
<text class="v" transform="translate(1587.85 677.44) scale(1 1.02)" style="fill:#050052">0.79</text><text class="s" transform="translate(1585.40 699.44)" style="fill:#050052;stroke:#050052">***</text>
<text class="v" transform="translate(1650.62 677.44) scale(1 1.02)" style="fill:#07004b">0.73</text><text class="s" transform="translate(1648.17 699.44)" style="fill:#07004b;stroke:#07004b">***</text>
<text class="v" transform="translate(960.20 740.21) scale(1 1.02)" style="fill:#000077">0.99</text><text class="s" transform="translate(957.75 762.21)" style="fill:#000077;stroke:#000077">***</text>
<text class="v" transform="translate(1022.97 740.21) scale(1 1.02)" style="fill:#080033">0.51</text><text class="s" transform="translate(1020.52 762.21)" style="fill:#080033;stroke:#080033">**</text>
<text class="v" transform="translate(1085.73 740.21) scale(1 1.02)" style="fill:#080041">0.64</text><text class="s" transform="translate(1083.28 762.21)" style="fill:#080041;stroke:#080041">***</text>
<text class="v" transform="translate(1148.50 740.21) scale(1 1.02)" style="fill:#070049">0.72</text><text class="s" transform="translate(1146.05 762.21)" style="fill:#070049;stroke:#070049">***</text>
<text class="v" transform="translate(1211.26 740.21) scale(1 1.02)" style="fill:#07004b">0.73</text><text class="s" transform="translate(1208.81 762.21)" style="fill:#07004b;stroke:#07004b">***</text>
<text class="v" transform="translate(1274.03 740.21) scale(1 1.02)" style="fill:#060050">0.77</text><text class="s" transform="translate(1271.58 762.21)" style="fill:#060050;stroke:#060050">***</text>
<text class="v" transform="translate(1336.79 740.21) scale(1 1.02)" style="fill:#070049">0.72</text><text class="s" transform="translate(1334.34 762.21)" style="fill:#070049;stroke:#070049">***</text>
<text class="v" transform="translate(1399.56 740.21) scale(1 1.02)" style="fill:#080044">0.67</text><text class="s" transform="translate(1397.11 762.21)" style="fill:#080044;stroke:#080044">***</text>
<text class="v" transform="translate(1462.32 740.21) scale(1 1.02)" style="fill:#06004e">0.76</text><text class="s" transform="translate(1459.87 762.21)" style="fill:#06004e;stroke:#06004e">***</text>
<text class="v" transform="translate(1525.09 740.21) scale(1 1.02)" style="fill:#07004c">0.74</text><text class="s" transform="translate(1522.64 762.21)" style="fill:#07004c;stroke:#07004c">***</text>
<text class="v" transform="translate(1587.85 740.21) scale(1 1.02)" style="fill:#050055">0.81</text><text class="s" transform="translate(1585.40 762.21)" style="fill:#050055;stroke:#050055">***</text>
<text class="v" transform="translate(1650.62 740.21) scale(1 1.02)" style="fill:#07004c">0.74</text><text class="s" transform="translate(1648.17 762.21)" style="fill:#07004c;stroke:#07004c">***</text>
<text class="v" transform="translate(897.43 802.99) scale(1 1.02)" style="fill:#00006d">0.96</text><text class="s" transform="translate(894.98 824.99)" style="fill:#00006d;stroke:#00006d">***</text>
<text class="v" transform="translate(960.20 802.99) scale(1 1.02)" style="fill:#00006a">0.95</text><text class="s" transform="translate(957.75 824.99)" style="fill:#00006a;stroke:#00006a">***</text>
<text class="v" transform="translate(1022.97 802.99) scale(1 1.02)" style="fill:#08002f">0.47</text><text class="s" transform="translate(1020.52 824.99)" style="fill:#08002f;stroke:#08002f">**</text>
<text class="v" transform="translate(1085.73 802.99) scale(1 1.02)" style="fill:#080033">0.51</text><text class="s" transform="translate(1083.28 824.99)" style="fill:#080033;stroke:#080033">**</text>
<text class="v" transform="translate(1148.50 802.99) scale(1 1.02)" style="fill:#080040">0.63</text><text class="s" transform="translate(1146.05 824.99)" style="fill:#080040;stroke:#080040">***</text>
<text class="v" transform="translate(1211.26 802.99) scale(1 1.02)" style="fill:#070043">0.66</text><text class="s" transform="translate(1208.81 824.99)" style="fill:#070043;stroke:#070043">***</text>
<text class="v" transform="translate(1274.03 802.99) scale(1 1.02)" style="fill:#070048">0.70</text><text class="s" transform="translate(1271.58 824.99)" style="fill:#070048;stroke:#070048">***</text>
<text class="v" transform="translate(1336.79 802.99) scale(1 1.02)" style="fill:#08003e">0.62</text><text class="s" transform="translate(1334.34 824.99)" style="fill:#08003e;stroke:#08003e">***</text>
<text class="v" transform="translate(1399.56 802.99) scale(1 1.02)" style="fill:#080035">0.53</text><text class="s" transform="translate(1397.11 824.99)" style="fill:#080035;stroke:#080035">***</text>
<text class="v" transform="translate(1462.32 802.99) scale(1 1.02)" style="fill:#080044">0.67</text><text class="s" transform="translate(1459.87 824.99)" style="fill:#080044;stroke:#080044">***</text>
<text class="v" transform="translate(1525.09 802.99) scale(1 1.02)" style="fill:#080040">0.63</text><text class="s" transform="translate(1522.64 824.99)" style="fill:#080040;stroke:#080040">***</text>
<text class="v" transform="translate(1587.85 802.99) scale(1 1.02)" style="fill:#070049">0.71</text><text class="s" transform="translate(1585.40 824.99)" style="fill:#070049;stroke:#070049">***</text>
<text class="v" transform="translate(1650.62 802.99) scale(1 1.02)" style="fill:#080041">0.64</text><text class="s" transform="translate(1648.17 824.99)" style="fill:#080041;stroke:#080041">***</text>
<text class="v" transform="translate(834.67 865.76) scale(1 1.02)" style="fill:#050053">0.80</text><text class="s" transform="translate(832.22 887.76)" style="fill:#050053;stroke:#050053">***</text>
<text class="v" transform="translate(897.43 865.76) scale(1 1.02)" style="fill:#060050">0.77</text><text class="s" transform="translate(894.98 887.76)" style="fill:#060050;stroke:#060050">***</text>
<text class="v" transform="translate(960.20 865.76) scale(1 1.02)" style="fill:#060051">0.78</text><text class="s" transform="translate(957.75 887.76)" style="fill:#060051;stroke:#060051">***</text>
<text class="v" transform="translate(1022.97 865.76) scale(1 1.02)" style="fill:#08002d">0.45</text><text class="s" transform="translate(1020.52 887.76)" style="fill:#08002d;stroke:#08002d">**</text>
<text class="v" transform="translate(1085.73 865.76) scale(1 1.02)" style="fill:#080031">0.49</text><text class="s" transform="translate(1083.28 887.76)" style="fill:#080031;stroke:#080031">**</text>
<text class="v" transform="translate(1148.50 865.76) scale(1 1.02)" style="fill:#080037">0.55</text><text class="s" transform="translate(1146.05 887.76)" style="fill:#080037;stroke:#080037">***</text>
<text class="v" transform="translate(1211.26 865.76) scale(1 1.02)" style="fill:#08003a">0.58</text><text class="s" transform="translate(1208.81 887.76)" style="fill:#08003a;stroke:#08003a">***</text>
<text class="v" transform="translate(1274.03 865.76) scale(1 1.02)" style="fill:#070049">0.71</text><text class="s" transform="translate(1271.58 887.76)" style="fill:#070049;stroke:#070049">***</text>
<text class="v" transform="translate(1336.79 865.76) scale(1 1.02)" style="fill:#080037">0.55</text><text class="s" transform="translate(1334.34 887.76)" style="fill:#080037;stroke:#080037">***</text>
<text class="v" transform="translate(1399.56 865.76) scale(1 1.02)" style="fill:#080030">0.48</text><text class="s" transform="translate(1397.11 887.76)" style="fill:#080030;stroke:#080030">**</text>
<text class="v" transform="translate(1462.32 865.76) scale(1 1.02)" style="fill:#080040">0.63</text><text class="s" transform="translate(1459.87 887.76)" style="fill:#080040;stroke:#080040">***</text>
<text class="v" transform="translate(1525.09 865.76) scale(1 1.02)" style="fill:#08003a">0.58</text><text class="s" transform="translate(1522.64 887.76)" style="fill:#08003a;stroke:#08003a">***</text>
<text class="v" transform="translate(1587.85 865.76) scale(1 1.02)" style="fill:#080041">0.64</text><text class="s" transform="translate(1585.40 887.76)" style="fill:#080041;stroke:#080041">***</text>
<text class="v" transform="translate(1650.62 865.76) scale(1 1.02)" style="fill:#08003d">0.61</text><text class="s" transform="translate(1648.17 887.76)" style="fill:#08003d;stroke:#08003d">***</text>
<text class="v" transform="translate(771.90 928.53) scale(1 1.02)" style="fill:#070048">0.70</text><text class="s" transform="translate(769.45 950.53)" style="fill:#070048;stroke:#070048">***</text>
<text class="v" transform="translate(834.67 928.53) scale(1 1.02)" style="fill:#080044">0.67</text><text class="s" transform="translate(832.22 950.53)" style="fill:#080044;stroke:#080044">***</text>
<text class="v" transform="translate(897.43 928.53) scale(1 1.02)" style="fill:#07004b">0.73</text><text class="s" transform="translate(894.98 950.53)" style="fill:#07004b;stroke:#07004b">***</text>
<text class="v" transform="translate(960.20 928.53) scale(1 1.02)" style="fill:#06004e">0.76</text><text class="s" transform="translate(957.75 950.53)" style="fill:#06004e;stroke:#06004e">***</text>
<text class="v" transform="translate(1022.97 928.53) scale(1 1.02)" style="fill:#08002e">0.46</text><text class="s" transform="translate(1020.52 950.53)" style="fill:#08002e;stroke:#08002e">**</text>
<text class="v" transform="translate(1085.73 928.53) scale(1 1.02)" style="fill:#080037">0.55</text><text class="s" transform="translate(1083.28 950.53)" style="fill:#080037;stroke:#080037">***</text>
<text class="v" transform="translate(1148.50 928.53) scale(1 1.02)" style="fill:#080042">0.65</text><text class="s" transform="translate(1146.05 950.53)" style="fill:#080042;stroke:#080042">***</text>
<text class="v" transform="translate(1211.26 928.53) scale(1 1.02)" style="fill:#08003e">0.62</text><text class="s" transform="translate(1208.81 950.53)" style="fill:#08003e;stroke:#08003e">***</text>
<text class="v" transform="translate(1274.03 928.53) scale(1 1.02)" style="fill:#070049">0.72</text><text class="s" transform="translate(1271.58 950.53)" style="fill:#070049;stroke:#070049">***</text>
<text class="v" transform="translate(1336.79 928.53) scale(1 1.02)" style="fill:#080042">0.65</text><text class="s" transform="translate(1334.34 950.53)" style="fill:#080042;stroke:#080042">***</text>
<text class="v" transform="translate(1399.56 928.53) scale(1 1.02)" style="fill:#08003d">0.61</text><text class="s" transform="translate(1397.11 950.53)" style="fill:#08003d;stroke:#08003d">***</text>
<text class="v" transform="translate(1462.32 928.53) scale(1 1.02)" style="fill:#080045">0.68</text><text class="s" transform="translate(1459.87 950.53)" style="fill:#080045;stroke:#080045">***</text>
<text class="v" transform="translate(1525.09 928.53) scale(1 1.02)" style="fill:#08003d">0.61</text><text class="s" transform="translate(1522.64 950.53)" style="fill:#08003d;stroke:#08003d">***</text>
<text class="v" transform="translate(1587.85 928.53) scale(1 1.02)" style="fill:#070048">0.70</text><text class="s" transform="translate(1585.40 950.53)" style="fill:#070048;stroke:#070048">***</text>
<text class="v" transform="translate(1650.62 928.53) scale(1 1.02)" style="fill:#070043">0.66</text><text class="s" transform="translate(1648.17 950.53)" style="fill:#070043;stroke:#070043">***</text>
<text class="v" transform="translate(709.14 991.31) scale(1 1.02)" style="fill:#080031">0.49</text><text class="s" transform="translate(706.69 1013.31)" style="fill:#080031;stroke:#080031">**</text>
<text class="v" transform="translate(771.90 991.31) scale(1 1.02)" style="fill:#080041">0.64</text><text class="s" transform="translate(769.45 1013.31)" style="fill:#080041;stroke:#080041">***</text>
<text class="v" transform="translate(834.67 991.31) scale(1 1.02)" style="fill:#080039">0.57</text><text class="s" transform="translate(832.22 1013.31)" style="fill:#080039;stroke:#080039">***</text>
<text class="v" transform="translate(897.43 991.31) scale(1 1.02)" style="fill:#080032">0.50</text><text class="s" transform="translate(894.98 1013.31)" style="fill:#080032;stroke:#080032">**</text>
<text class="v" transform="translate(960.20 991.31) scale(1 1.02)" style="fill:#080032">0.50</text><text class="s" transform="translate(957.75 1013.31)" style="fill:#080032;stroke:#080032">**</text>
<text class="v" transform="translate(1022.97 991.31) scale(1 1.02)" style="fill:#06001c">0.28</text><text class="n" transform="translate(1019.67 1016.61)" style="fill:#06001c">ns</text>
<text class="v" transform="translate(1085.73 991.31) scale(1 1.02)" style="fill:#060020">0.32</text><text class="n" transform="translate(1082.43 1016.61)" style="fill:#060020">ns</text>
<text class="v" transform="translate(1148.50 991.31) scale(1 1.02)" style="fill:#06001d">0.29</text><text class="n" transform="translate(1145.20 1016.61)" style="fill:#06001d">ns</text>
<text class="v" transform="translate(1211.26 991.31) scale(1 1.02)" style="fill:#080029">0.41</text><text class="s" transform="translate(1208.81 1013.31)" style="fill:#080029;stroke:#080029">*</text>
<text class="v" transform="translate(1274.03 991.31) scale(1 1.02)" style="fill:#08002b">0.43</text><text class="s" transform="translate(1271.58 1013.31)" style="fill:#08002b;stroke:#08002b">**</text>
<text class="v" transform="translate(1336.79 991.31) scale(1 1.02)" style="fill:#070022">0.34</text><text class="s" transform="translate(1334.34 1013.31)" style="fill:#070022;stroke:#070022">*</text>
<text class="v" transform="translate(1399.56 991.31) scale(1 1.02)" style="fill:#05001a">0.26</text><text class="n" transform="translate(1396.26 1016.61)" style="fill:#05001a">ns</text>
<text class="v" transform="translate(1462.32 991.31) scale(1 1.02)" style="fill:#08002f">0.47</text><text class="s" transform="translate(1459.87 1013.31)" style="fill:#08002f;stroke:#08002f">**</text>
<text class="v" transform="translate(1525.09 991.31) scale(1 1.02)" style="fill:#070023">0.35</text><text class="s" transform="translate(1522.64 1013.31)" style="fill:#070023;stroke:#070023">*</text>
<text class="v" transform="translate(1587.85 991.31) scale(1 1.02)" style="fill:#080029">0.41</text><text class="s" transform="translate(1585.40 1013.31)" style="fill:#080029;stroke:#080029">*</text>
<text class="v" transform="translate(1650.62 991.31) scale(1 1.02)" style="fill:#070028">0.40</text><text class="s" transform="translate(1648.17 1013.31)" style="fill:#070028;stroke:#070028">*</text>
<text class="v" transform="translate(646.37 1054.08) scale(1 1.02)" style="fill:#070024">0.36</text><text class="s" transform="translate(643.92 1076.08)" style="fill:#070024;stroke:#070024">*</text>
<text class="v" transform="translate(709.14 1054.08) scale(1 1.02)" style="fill:#070028">0.40</text><text class="s" transform="translate(706.69 1076.08)" style="fill:#070028;stroke:#070028">*</text>
<text class="v" transform="translate(771.90 1054.08) scale(1 1.02)" style="fill:#050017">0.23</text><text class="n" transform="translate(768.60 1079.38)" style="fill:#050017">ns</text>
<text class="v" transform="translate(834.67 1054.08) scale(1 1.02)" style="fill:#08002e">0.46</text><text class="s" transform="translate(832.22 1076.08)" style="fill:#08002e;stroke:#08002e">**</text>
<text class="v" transform="translate(897.43 1054.08) scale(1 1.02)" style="fill:#080033">0.51</text><text class="s" transform="translate(894.98 1076.08)" style="fill:#080033;stroke:#080033">**</text>
<text class="v" transform="translate(960.20 1054.08) scale(1 1.02)" style="fill:#080036">0.54</text><text class="s" transform="translate(957.75 1076.08)" style="fill:#080036;stroke:#080036">***</text>
<text class="v" transform="translate(1022.97 1054.08) scale(1 1.02)" style="fill:#070025">0.38</text><text class="s" transform="translate(1020.52 1076.08)" style="fill:#070025;stroke:#070025">*</text>
<text class="v" transform="translate(1085.73 1054.08) scale(1 1.02)" style="fill:#070027">0.39</text><text class="s" transform="translate(1083.28 1076.08)" style="fill:#070027;stroke:#070027">*</text>
<text class="v" transform="translate(1148.50 1054.08) scale(1 1.02)" style="fill:#060020">0.32</text><text class="n" transform="translate(1145.20 1079.38)" style="fill:#060020">ns</text>
<text class="v" transform="translate(1211.26 1054.08) scale(1 1.02)" style="fill:#070024">0.36</text><text class="s" transform="translate(1208.81 1076.08)" style="fill:#070024;stroke:#070024">*</text>
<text class="v" transform="translate(1274.03 1054.08) scale(1 1.02)" style="fill:#08002e">0.46</text><text class="s" transform="translate(1271.58 1076.08)" style="fill:#08002e;stroke:#08002e">**</text>
<text class="v" transform="translate(1336.79 1054.08) scale(1 1.02)" style="fill:#07002c">0.44</text><text class="s" transform="translate(1334.34 1076.08)" style="fill:#07002c;stroke:#07002c">**</text>
<text class="v" transform="translate(1399.56 1054.08) scale(1 1.02)" style="fill:#070028">0.40</text><text class="s" transform="translate(1397.11 1076.08)" style="fill:#070028;stroke:#070028">*</text>
<text class="v" transform="translate(1462.32 1054.08) scale(1 1.02)" style="fill:#06001e">0.31</text><text class="n" transform="translate(1459.02 1079.38)" style="fill:#06001e">ns</text>
<text class="v" transform="translate(1525.09 1054.08) scale(1 1.02)" style="fill:#070022">0.34</text><text class="s" transform="translate(1522.64 1076.08)" style="fill:#070022;stroke:#070022">*</text>
<text class="v" transform="translate(1587.85 1054.08) scale(1 1.02)" style="fill:#08002f">0.47</text><text class="s" transform="translate(1585.40 1076.08)" style="fill:#08002f;stroke:#08002f">**</text>
<text class="v" transform="translate(1650.62 1054.08) scale(1 1.02)" style="fill:#070028">0.40</text><text class="s" transform="translate(1648.17 1076.08)" style="fill:#070028;stroke:#070028">*</text>
<text class="v" transform="translate(583.61 1116.86) scale(1 1.02)" style="fill:#070043">0.66</text><text class="s" transform="translate(581.16 1138.86)" style="fill:#070043;stroke:#070043">***</text>
<text class="v" transform="translate(646.37 1116.86) scale(1 1.02)" style="fill:#08002d">0.45</text><text class="s" transform="translate(643.92 1138.86)" style="fill:#08002d;stroke:#08002d">**</text>
<text class="v" transform="translate(709.14 1116.86) scale(1 1.02)" style="fill:#060019">0.25</text><text class="n" transform="translate(705.84 1142.16)" style="fill:#060019">ns</text>
<text class="v" transform="translate(771.90 1116.86) scale(1 1.02)" style="fill:#050013">0.19</text><text class="n" transform="translate(768.60 1142.16)" style="fill:#050013">ns</text>
<text class="v" transform="translate(834.67 1116.86) scale(1 1.02)" style="fill:#070024">0.36</text><text class="s" transform="translate(832.22 1138.86)" style="fill:#070024;stroke:#070024">*</text>
<text class="v" transform="translate(897.43 1116.86) scale(1 1.02)" style="fill:#070024">0.36</text><text class="s" transform="translate(894.98 1138.86)" style="fill:#070024;stroke:#070024">*</text>
<text class="v" transform="translate(960.20 1116.86) scale(1 1.02)" style="fill:#070025">0.37</text><text class="s" transform="translate(957.75 1138.86)" style="fill:#070025;stroke:#070025">*</text>
<text class="v" transform="translate(1022.97 1116.86) scale(1 1.02)" style="fill:#070025">0.37</text><text class="s" transform="translate(1020.52 1138.86)" style="fill:#070025;stroke:#070025">*</text>
<text class="v" transform="translate(1085.73 1116.86) scale(1 1.02)" style="fill:#070022">0.34</text><text class="s" transform="translate(1083.28 1138.86)" style="fill:#070022;stroke:#070022">*</text>
<text class="v" transform="translate(1148.50 1116.86) scale(1 1.02)" style="fill:#05001a">0.26</text><text class="n" transform="translate(1145.20 1142.16)" style="fill:#05001a">ns</text>
<text class="v" transform="translate(1211.26 1116.86) scale(1 1.02)" style="fill:#070025">0.37</text><text class="s" transform="translate(1208.81 1138.86)" style="fill:#070025;stroke:#070025">*</text>
<text class="v" transform="translate(1274.03 1116.86) scale(1 1.02)" style="fill:#08002b">0.43</text><text class="s" transform="translate(1271.58 1138.86)" style="fill:#08002b;stroke:#08002b">**</text>
<text class="v" transform="translate(1336.79 1116.86) scale(1 1.02)" style="fill:#07002c">0.44</text><text class="s" transform="translate(1334.34 1138.86)" style="fill:#07002c;stroke:#07002c">**</text>
<text class="v" transform="translate(1399.56 1116.86) scale(1 1.02)" style="fill:#070024">0.36</text><text class="s" transform="translate(1397.11 1138.86)" style="fill:#070024;stroke:#070024">*</text>
<text class="v" transform="translate(1462.32 1116.86) scale(1 1.02)" style="fill:#070027">0.39</text><text class="s" transform="translate(1459.87 1138.86)" style="fill:#070027;stroke:#070027">*</text>
<text class="v" transform="translate(1525.09 1116.86) scale(1 1.02)" style="fill:#06001e">0.30</text><text class="n" transform="translate(1521.79 1142.16)" style="fill:#06001e">ns</text>
<text class="v" transform="translate(1587.85 1116.86) scale(1 1.02)" style="fill:#070024">0.36</text><text class="s" transform="translate(1585.40 1138.86)" style="fill:#070024;stroke:#070024">*</text>
<text class="v" transform="translate(1650.62 1116.86) scale(1 1.02)" style="fill:#070023">0.35</text><text class="s" transform="translate(1648.17 1138.86)" style="fill:#070023;stroke:#070023">*</text>
<text class="v" transform="translate(520.84 1179.63) scale(1 1.02)" style="fill:#080033">0.51</text><text class="s" transform="translate(518.39 1201.63)" style="fill:#080033;stroke:#080033">**</text>
<text class="v" transform="translate(583.61 1179.63) scale(1 1.02)" style="fill:#08003b">0.59</text><text class="s" transform="translate(581.16 1201.63)" style="fill:#08003b;stroke:#08003b">***</text>
<text class="v" transform="translate(646.37 1179.63) scale(1 1.02)" style="fill:#050017">0.23</text><text class="n" transform="translate(643.07 1204.93)" style="fill:#050017">ns</text>
<text class="v" transform="translate(709.14 1179.63) scale(1 1.02)" style="fill:#08002a">0.42</text><text class="s" transform="translate(706.69 1201.63)" style="fill:#08002a;stroke:#08002a">*</text>
<text class="v" transform="translate(771.90 1179.63) scale(1 1.02)" style="fill:#070021">0.33</text><text class="n" transform="translate(768.60 1204.93)" style="fill:#070021">ns</text>
<text class="v" transform="translate(834.67 1179.63) scale(1 1.02)" style="fill:#08002a">0.42</text><text class="s" transform="translate(832.22 1201.63)" style="fill:#08002a;stroke:#08002a">*</text>
<text class="v" transform="translate(897.43 1179.63) scale(1 1.02)" style="fill:#080032">0.50</text><text class="s" transform="translate(894.98 1201.63)" style="fill:#080032;stroke:#080032">**</text>
<text class="v" transform="translate(960.20 1179.63) scale(1 1.02)" style="fill:#080032">0.50</text><text class="s" transform="translate(957.75 1201.63)" style="fill:#080032;stroke:#080032">**</text>
<text class="v" transform="translate(1022.97 1179.63) scale(1 1.02)" style="fill:#060019">0.25</text><text class="n" transform="translate(1019.67 1204.93)" style="fill:#060019">ns</text>
<text class="v" transform="translate(1085.73 1179.63) scale(1 1.02)" style="fill:#080035">0.53</text><text class="s" transform="translate(1083.28 1201.63)" style="fill:#080035;stroke:#080035">**</text>
<text class="v" transform="translate(1148.50 1179.63) scale(1 1.02)" style="fill:#08002e">0.46</text><text class="s" transform="translate(1146.05 1201.63)" style="fill:#08002e;stroke:#08002e">**</text>
<text class="v" transform="translate(1211.26 1179.63) scale(1 1.02)" style="fill:#08002e">0.46</text><text class="s" transform="translate(1208.81 1201.63)" style="fill:#08002e;stroke:#08002e">**</text>
<text class="v" transform="translate(1274.03 1179.63) scale(1 1.02)" style="fill:#08002a">0.42</text><text class="s" transform="translate(1271.58 1201.63)" style="fill:#08002a;stroke:#08002a">*</text>
<text class="v" transform="translate(1336.79 1179.63) scale(1 1.02)" style="fill:#080030">0.48</text><text class="s" transform="translate(1334.34 1201.63)" style="fill:#080030;stroke:#080030">**</text>
<text class="v" transform="translate(1399.56 1179.63) scale(1 1.02)" style="fill:#08002f">0.47</text><text class="s" transform="translate(1397.11 1201.63)" style="fill:#08002f;stroke:#08002f">**</text>
<text class="v" transform="translate(1462.32 1179.63) scale(1 1.02)" style="fill:#080029">0.41</text><text class="s" transform="translate(1459.87 1201.63)" style="fill:#080029;stroke:#080029">*</text>
<text class="v" transform="translate(1525.09 1179.63) scale(1 1.02)" style="fill:#08002d">0.45</text><text class="s" transform="translate(1522.64 1201.63)" style="fill:#08002d;stroke:#08002d">**</text>
<text class="v" transform="translate(1587.85 1179.63) scale(1 1.02)" style="fill:#080032">0.50</text><text class="s" transform="translate(1585.40 1201.63)" style="fill:#080032;stroke:#080032">**</text>
<text class="v" transform="translate(1650.62 1179.63) scale(1 1.02)" style="fill:#080032">0.50</text><text class="s" transform="translate(1648.17 1201.63)" style="fill:#080032;stroke:#080032">**</text>
<text class="v" transform="translate(458.08 1242.40) scale(1 1.02)" style="fill:#000069">0.94</text><text class="s" transform="translate(455.63 1264.40)" style="fill:#000069;stroke:#000069">***</text>
<text class="v" transform="translate(520.84 1242.40) scale(1 1.02)" style="fill:#08003b">0.59</text><text class="s" transform="translate(518.39 1264.40)" style="fill:#08003b;stroke:#08003b">***</text>
<text class="v" transform="translate(583.61 1242.40) scale(1 1.02)" style="fill:#08003b">0.59</text><text class="s" transform="translate(581.16 1264.40)" style="fill:#08003b;stroke:#08003b">***</text>
<text class="v" transform="translate(646.37 1242.40) scale(1 1.02)" style="fill:#050015">0.21</text><text class="n" transform="translate(643.07 1267.70)" style="fill:#050015">ns</text>
<text class="v" transform="translate(709.14 1242.40) scale(1 1.02)" style="fill:#06001e">0.31</text><text class="n" transform="translate(705.84 1267.70)" style="fill:#06001e">ns</text>
<text class="v" transform="translate(771.90 1242.40) scale(1 1.02)" style="fill:#040012">0.18</text><text class="n" transform="translate(768.60 1267.70)" style="fill:#040012">ns</text>
<text class="v" transform="translate(834.67 1242.40) scale(1 1.02)" style="fill:#06001e">0.30</text><text class="n" transform="translate(831.37 1267.70)" style="fill:#06001e">ns</text>
<text class="v" transform="translate(897.43 1242.40) scale(1 1.02)" style="fill:#070025">0.37</text><text class="s" transform="translate(894.98 1264.40)" style="fill:#070025;stroke:#070025">*</text>
<text class="v" transform="translate(960.20 1242.40) scale(1 1.02)" style="fill:#070025">0.37</text><text class="s" transform="translate(957.75 1264.40)" style="fill:#070025;stroke:#070025">*</text>
<text class="v" transform="translate(1022.97 1242.40) scale(1 1.02)" style="fill:#06001e">0.31</text><text class="n" transform="translate(1019.67 1267.70)" style="fill:#06001e">ns</text>
<text class="v" transform="translate(1085.73 1242.40) scale(1 1.02)" style="fill:#08002d">0.45</text><text class="s" transform="translate(1083.28 1264.40)" style="fill:#08002d;stroke:#08002d">**</text>
<text class="v" transform="translate(1148.50 1242.40) scale(1 1.02)" style="fill:#080029">0.41</text><text class="s" transform="translate(1146.05 1264.40)" style="fill:#080029;stroke:#080029">*</text>
<text class="v" transform="translate(1211.26 1242.40) scale(1 1.02)" style="fill:#070028">0.40</text><text class="s" transform="translate(1208.81 1264.40)" style="fill:#070028;stroke:#070028">*</text>
<text class="v" transform="translate(1274.03 1242.40) scale(1 1.02)" style="fill:#060020">0.32</text><text class="n" transform="translate(1270.73 1267.70)" style="fill:#060020">ns</text>
<text class="v" transform="translate(1336.79 1242.40) scale(1 1.02)" style="fill:#07002c">0.44</text><text class="s" transform="translate(1334.34 1264.40)" style="fill:#07002c;stroke:#07002c">**</text>
<text class="v" transform="translate(1399.56 1242.40) scale(1 1.02)" style="fill:#08002e">0.46</text><text class="s" transform="translate(1397.11 1264.40)" style="fill:#08002e;stroke:#08002e">**</text>
<text class="v" transform="translate(1462.32 1242.40) scale(1 1.02)" style="fill:#070025">0.37</text><text class="s" transform="translate(1459.87 1264.40)" style="fill:#070025;stroke:#070025">*</text>
<text class="v" transform="translate(1525.09 1242.40) scale(1 1.02)" style="fill:#070028">0.40</text><text class="s" transform="translate(1522.64 1264.40)" style="fill:#070028;stroke:#070028">*</text>
<text class="v" transform="translate(1587.85 1242.40) scale(1 1.02)" style="fill:#07002c">0.44</text><text class="s" transform="translate(1585.40 1264.40)" style="fill:#07002c;stroke:#07002c">**</text>
<text class="v" transform="translate(1650.62 1242.40) scale(1 1.02)" style="fill:#08002e">0.46</text><text class="s" transform="translate(1648.17 1264.40)" style="fill:#08002e;stroke:#08002e">**</text>
<text class="v" transform="translate(392.01 1305.18) scale(1 1.02)" style="fill:#260000">-0.48</text><text class="s" transform="translate(392.86 1327.18)" style="fill:#260000;stroke:#260000">**</text>
<text class="v" transform="translate(454.78 1305.18) scale(1 1.02)" style="fill:#290000">-0.52</text><text class="s" transform="translate(455.63 1327.18)" style="fill:#290000;stroke:#290000">**</text>
<text class="v" transform="translate(517.54 1305.18) scale(1 1.02)" style="fill:#1d0000">-0.37</text><text class="s" transform="translate(518.39 1327.18)" style="fill:#1d0000;stroke:#1d0000">*</text>
<text class="v" transform="translate(580.31 1305.18) scale(1 1.02)" style="fill:#220000">-0.44</text><text class="s" transform="translate(581.16 1327.18)" style="fill:#220000;stroke:#220000">**</text>
<text class="v" transform="translate(643.07 1305.18) scale(1 1.02)" style="fill:#0e0000">-0.18</text><text class="n" transform="translate(643.07 1330.48)" style="fill:#0e0000">ns</text>
<text class="v" transform="translate(705.84 1305.18) scale(1 1.02)" style="fill:#2f0000">-0.59</text><text class="s" transform="translate(706.69 1327.18)" style="fill:#2f0000;stroke:#2f0000">***</text>
<text class="v" transform="translate(768.60 1305.18) scale(1 1.02)" style="fill:#250000">-0.47</text><text class="s" transform="translate(769.45 1327.18)" style="fill:#250000;stroke:#250000">**</text>
<text class="v" transform="translate(831.37 1305.18) scale(1 1.02)" style="fill:#2a0000">-0.54</text><text class="s" transform="translate(832.22 1327.18)" style="fill:#2a0000;stroke:#2a0000">***</text>
<text class="v" transform="translate(894.13 1305.18) scale(1 1.02)" style="fill:#360000">-0.68</text><text class="s" transform="translate(894.98 1327.18)" style="fill:#360000;stroke:#360000">***</text>
<text class="v" transform="translate(956.90 1305.18) scale(1 1.02)" style="fill:#360000">-0.68</text><text class="s" transform="translate(957.75 1327.18)" style="fill:#360000;stroke:#360000">***</text>
<text class="v" transform="translate(1019.67 1305.18) scale(1 1.02)" style="fill:#310000">-0.62</text><text class="s" transform="translate(1020.52 1327.18)" style="fill:#310000;stroke:#310000">***</text>
<text class="v" transform="translate(1082.43 1305.18) scale(1 1.02)" style="fill:#4b0000">-0.89</text><text class="s" transform="translate(1083.28 1327.18)" style="fill:#4b0000;stroke:#4b0000">***</text>
<text class="v" transform="translate(1145.20 1305.18) scale(1 1.02)" style="fill:#4a0000">-0.88</text><text class="s" transform="translate(1146.05 1327.18)" style="fill:#4a0000;stroke:#4a0000">***</text>
<text class="v" transform="translate(1207.96 1305.18) scale(1 1.02)" style="fill:#4b0000">-0.89</text><text class="s" transform="translate(1208.81 1327.18)" style="fill:#4b0000;stroke:#4b0000">***</text>
<text class="v" transform="translate(1270.73 1305.18) scale(1 1.02)" style="fill:#450000">-0.84</text><text class="s" transform="translate(1271.58 1327.18)" style="fill:#450000;stroke:#450000">***</text>
<text class="v" transform="translate(1333.49 1305.18) scale(1 1.02)" style="fill:#4c0000">-0.90</text><text class="s" transform="translate(1334.34 1327.18)" style="fill:#4c0000;stroke:#4c0000">***</text>
<text class="v" transform="translate(1396.26 1305.18) scale(1 1.02)" style="fill:#560000">-0.96</text><text class="s" transform="translate(1397.11 1327.18)" style="fill:#560000;stroke:#560000">***</text>
<text class="v" transform="translate(1459.02 1305.18) scale(1 1.02)" style="fill:#440000">-0.83</text><text class="s" transform="translate(1459.87 1327.18)" style="fill:#440000;stroke:#440000">***</text>
<text class="v" transform="translate(1521.79 1305.18) scale(1 1.02)" style="fill:#4f0000">-0.92</text><text class="s" transform="translate(1522.64 1327.18)" style="fill:#4f0000;stroke:#4f0000">***</text>
<text class="v" transform="translate(1584.55 1305.18) scale(1 1.02)" style="fill:#510000">-0.93</text><text class="s" transform="translate(1585.40 1327.18)" style="fill:#510000;stroke:#510000">***</text>
<text class="v" transform="translate(1647.32 1305.18) scale(1 1.02)" style="fill:#510000">-0.93</text><text class="s" transform="translate(1648.17 1327.18)" style="fill:#510000;stroke:#510000">***</text>
<text class="v" transform="translate(332.55 1367.95) scale(1 1.02)" style="fill:#00006d">0.96</text><text class="s" transform="translate(330.10 1389.95)" style="fill:#00006d;stroke:#00006d">***</text>
<text class="v" transform="translate(392.01 1367.95) scale(1 1.02)" style="fill:#200000">-0.41</text><text class="s" transform="translate(392.86 1389.95)" style="fill:#200000;stroke:#200000">*</text>
<text class="v" transform="translate(454.78 1367.95) scale(1 1.02)" style="fill:#220000">-0.43</text><text class="s" transform="translate(455.63 1389.95)" style="fill:#220000;stroke:#220000">**</text>
<text class="v" transform="translate(517.54 1367.95) scale(1 1.02)" style="fill:#1d0000">-0.37</text><text class="s" transform="translate(518.39 1389.95)" style="fill:#1d0000;stroke:#1d0000">*</text>
<text class="v" transform="translate(580.31 1367.95) scale(1 1.02)" style="fill:#1e0000">-0.39</text><text class="s" transform="translate(581.16 1389.95)" style="fill:#1e0000;stroke:#1e0000">*</text>
<text class="v" transform="translate(643.07 1367.95) scale(1 1.02)" style="fill:#170000">-0.30</text><text class="n" transform="translate(643.07 1393.25)" style="fill:#170000">ns</text>
<text class="v" transform="translate(705.84 1367.95) scale(1 1.02)" style="fill:#340000">-0.65</text><text class="s" transform="translate(706.69 1389.95)" style="fill:#340000;stroke:#340000">***</text>
<text class="v" transform="translate(768.60 1367.95) scale(1 1.02)" style="fill:#2a0000">-0.54</text><text class="s" transform="translate(769.45 1389.95)" style="fill:#2a0000;stroke:#2a0000">***</text>
<text class="v" transform="translate(831.37 1367.95) scale(1 1.02)" style="fill:#2f0000">-0.59</text><text class="s" transform="translate(832.22 1389.95)" style="fill:#2f0000;stroke:#2f0000">***</text>
<text class="v" transform="translate(894.13 1367.95) scale(1 1.02)" style="fill:#390000">-0.71</text><text class="s" transform="translate(894.98 1389.95)" style="fill:#390000;stroke:#390000">***</text>
<text class="v" transform="translate(956.90 1367.95) scale(1 1.02)" style="fill:#370000">-0.69</text><text class="s" transform="translate(957.75 1389.95)" style="fill:#370000;stroke:#370000">***</text>
<text class="v" transform="translate(1019.67 1367.95) scale(1 1.02)" style="fill:#350000">-0.67</text><text class="s" transform="translate(1020.52 1389.95)" style="fill:#350000;stroke:#350000">***</text>
<text class="v" transform="translate(1082.43 1367.95) scale(1 1.02)" style="fill:#4b0000">-0.89</text><text class="s" transform="translate(1083.28 1389.95)" style="fill:#4b0000;stroke:#4b0000">***</text>
<text class="v" transform="translate(1145.20 1367.95) scale(1 1.02)" style="fill:#4a0000">-0.88</text><text class="s" transform="translate(1146.05 1389.95)" style="fill:#4a0000;stroke:#4a0000">***</text>
<text class="v" transform="translate(1207.96 1367.95) scale(1 1.02)" style="fill:#510000">-0.93</text><text class="s" transform="translate(1208.81 1389.95)" style="fill:#510000;stroke:#510000">***</text>
<text class="v" transform="translate(1270.73 1367.95) scale(1 1.02)" style="fill:#470000">-0.85</text><text class="s" transform="translate(1271.58 1389.95)" style="fill:#470000;stroke:#470000">***</text>
<text class="v" transform="translate(1333.49 1367.95) scale(1 1.02)" style="fill:#510000">-0.93</text><text class="s" transform="translate(1334.34 1389.95)" style="fill:#510000;stroke:#510000">***</text>
<text class="v" transform="translate(1396.26 1367.95) scale(1 1.02)" style="fill:#580000">-0.97</text><text class="s" transform="translate(1397.11 1389.95)" style="fill:#580000;stroke:#580000">***</text>
<text class="v" transform="translate(1459.02 1367.95) scale(1 1.02)" style="fill:#4b0000">-0.89</text><text class="s" transform="translate(1459.87 1389.95)" style="fill:#4b0000;stroke:#4b0000">***</text>
<text class="v" transform="translate(1521.79 1367.95) scale(1 1.02)" style="fill:#520000">-0.94</text><text class="s" transform="translate(1522.64 1389.95)" style="fill:#520000;stroke:#520000">***</text>
<text class="v" transform="translate(1584.55 1367.95) scale(1 1.02)" style="fill:#560000">-0.96</text><text class="s" transform="translate(1585.40 1389.95)" style="fill:#560000;stroke:#560000">***</text>
<text class="v" transform="translate(1647.32 1367.95) scale(1 1.02)" style="fill:#560000">-0.96</text><text class="s" transform="translate(1648.17 1389.95)" style="fill:#560000;stroke:#560000">***</text>
<text class="v" transform="translate(269.78 1430.73) scale(1 1.02)" style="fill:#08002b">0.43</text><text class="s" transform="translate(267.33 1452.73)" style="fill:#08002b;stroke:#08002b">**</text>
<text class="v" transform="translate(332.55 1430.73) scale(1 1.02)" style="fill:#070021">0.33</text><text class="s" transform="translate(330.10 1452.73)" style="fill:#070021;stroke:#070021">*</text>
<text class="v" transform="translate(392.01 1430.73) scale(1 1.02)" style="fill:#050000">-0.06</text><text class="n" transform="translate(392.01 1456.03)" style="fill:#050000">ns</text>
<text class="v" transform="translate(454.78 1430.73) scale(1 1.02)" style="fill:#090000">-0.12</text><text class="n" transform="translate(454.78 1456.03)" style="fill:#090000">ns</text>
<text class="v" transform="translate(517.54 1430.73) scale(1 1.02)" style="fill:#120000">-0.23</text><text class="n" transform="translate(517.54 1456.03)" style="fill:#120000">ns</text>
<text class="v" transform="translate(580.31 1430.73) scale(1 1.02)" style="fill:#150000">-0.27</text><text class="n" transform="translate(580.31 1456.03)" style="fill:#150000">ns</text>
<text class="v" transform="translate(643.07 1430.73) scale(1 1.02)" style="fill:#260000">-0.48</text><text class="s" transform="translate(643.92 1452.73)" style="fill:#260000;stroke:#260000">**</text>
<text class="v" transform="translate(705.84 1430.73) scale(1 1.02)" style="fill:#290000">-0.52</text><text class="s" transform="translate(706.69 1452.73)" style="fill:#290000;stroke:#290000">**</text>
<text class="v" transform="translate(768.60 1430.73) scale(1 1.02)" style="fill:#370000">-0.69</text><text class="s" transform="translate(769.45 1452.73)" style="fill:#370000;stroke:#370000">***</text>
<text class="v" transform="translate(831.37 1430.73) scale(1 1.02)" style="fill:#330000">-0.64</text><text class="s" transform="translate(832.22 1452.73)" style="fill:#330000;stroke:#330000">***</text>
<text class="v" transform="translate(894.13 1430.73) scale(1 1.02)" style="fill:#2d0000">-0.57</text><text class="s" transform="translate(894.98 1452.73)" style="fill:#2d0000;stroke:#2d0000">***</text>
<text class="v" transform="translate(956.90 1430.73) scale(1 1.02)" style="fill:#300000">-0.61</text><text class="s" transform="translate(957.75 1452.73)" style="fill:#300000;stroke:#300000">***</text>
<text class="v" transform="translate(1019.67 1430.73) scale(1 1.02)" style="fill:#2b0000">-0.55</text><text class="s" transform="translate(1020.52 1452.73)" style="fill:#2b0000;stroke:#2b0000">***</text>
<text class="v" transform="translate(1082.43 1430.73) scale(1 1.02)" style="fill:#130000">-0.24</text><text class="n" transform="translate(1082.43 1456.03)" style="fill:#130000">ns</text>
<text class="v" transform="translate(1145.20 1430.73) scale(1 1.02)" style="fill:#120000">-0.23</text><text class="n" transform="translate(1145.20 1456.03)" style="fill:#120000">ns</text>
<text class="v" transform="translate(1207.96 1430.73) scale(1 1.02)" style="fill:#1f0000">-0.40</text><text class="s" transform="translate(1208.81 1452.73)" style="fill:#1f0000;stroke:#1f0000">*</text>
<text class="v" transform="translate(1270.73 1430.73) scale(1 1.02)" style="fill:#350000">-0.67</text><text class="s" transform="translate(1271.58 1452.73)" style="fill:#350000;stroke:#350000">***</text>
<text class="v" transform="translate(1333.49 1430.73) scale(1 1.02)" style="fill:#260000">-0.48</text><text class="s" transform="translate(1334.34 1452.73)" style="fill:#260000;stroke:#260000">**</text>
<text class="v" transform="translate(1396.26 1430.73) scale(1 1.02)" style="fill:#1e0000">-0.39</text><text class="s" transform="translate(1397.11 1452.73)" style="fill:#1e0000;stroke:#1e0000">*</text>
<text class="v" transform="translate(1459.02 1430.73) scale(1 1.02)" style="fill:#270000">-0.50</text><text class="s" transform="translate(1459.87 1452.73)" style="fill:#270000;stroke:#270000">**</text>
<text class="v" transform="translate(1521.79 1430.73) scale(1 1.02)" style="fill:#1c0000">-0.36</text><text class="s" transform="translate(1522.64 1452.73)" style="fill:#1c0000;stroke:#1c0000">*</text>
<text class="v" transform="translate(1584.55 1430.73) scale(1 1.02)" style="fill:#250000">-0.47</text><text class="s" transform="translate(1585.40 1452.73)" style="fill:#250000;stroke:#250000">**</text>
<text class="v" transform="translate(1647.32 1430.73) scale(1 1.02)" style="fill:#220000">-0.43</text><text class="s" transform="translate(1648.17 1452.73)" style="fill:#220000;stroke:#220000">**</text>
</g>
<g>
<text class="yl" transform="translate(1692.40 59.49) scale(1 1.045)">SOD</text>
<text class="yl" transform="translate(1692.40 122.26) scale(1 1.045)">CAT</text>
<text class="yl" transform="translate(1692.40 185.03) scale(1 1.045)">PRO</text>
<text class="yl" transform="translate(1692.40 247.81) scale(1 1.045)">AsA</text>
<text class="yl" transform="translate(1692.40 310.58) scale(1 1.045)">TRE</text>
<text class="yl" transform="translate(1692.40 373.36) scale(1 1.045)">TS</text>
<text class="yl" transform="translate(1692.40 436.13) scale(1 1.045)">GR</text>
<text class="yl" transform="translate(1692.40 498.90) scale(1 1.045)">APX</text>
<text class="yl" transform="translate(1692.40 561.68) scale(1 1.045)">CART</text>
<text class="yl" transform="translate(1692.40 624.45) scale(1 1.045)">PE</text>
<text class="yl" transform="translate(1692.40 687.23) scale(1 1.045)">NS</text>
<text class="yl" transform="translate(1692.40 750.00) scale(1 1.045)">FP</text>
<text class="yl" transform="translate(1692.40 812.77) scale(1 1.045)">TSW</text>
<text class="yl" transform="translate(1692.40 875.55) scale(1 1.045)">SPAD</text>
<text class="yl" transform="translate(1692.40 938.32) scale(1 1.045)">SC</text>
<text class="yl" transform="translate(1692.40 1001.10) scale(1 1.045)">RLWC</text>
<text class="yl" transform="translate(1692.40 1063.87) scale(1 1.045)">OV</text>
<text class="yl" transform="translate(1692.40 1126.64) scale(1 1.045)">PL</text>
<text class="yl" transform="translate(1692.40 1189.42) scale(1 1.045)">PG</text>
<text class="yl" transform="translate(1692.40 1252.19) scale(1 1.045)">PV</text>
<text class="yl" transform="translate(1692.40 1314.97) scale(1 1.045)">MDA</text>
<text class="yl" transform="translate(1692.40 1377.74) scale(1 1.045)">EL</text>
<text class="yl" transform="translate(1692.40 1440.51) scale(1 1.045)">H2O2</text>
</g>
<g>
<text class="xl" transform="translate(280.58 1489.80) rotate(-45) scale(1 1.045)">EL</text>
<text class="xl" transform="translate(343.35 1489.80) rotate(-45) scale(1 1.045)">MDA</text>
<text class="xl" transform="translate(406.11 1489.80) rotate(-45) scale(1 1.045)">PV</text>
<text class="xl" transform="translate(468.88 1489.80) rotate(-45) scale(1 1.045)">PG</text>
<text class="xl" transform="translate(531.64 1489.80) rotate(-45) scale(1 1.045)">PL</text>
<text class="xl" transform="translate(594.41 1489.80) rotate(-45) scale(1 1.045)">OV</text>
<text class="xl" transform="translate(657.17 1489.80) rotate(-45) scale(1 1.045)">RLWC</text>
<text class="xl" transform="translate(719.94 1489.80) rotate(-45) scale(1 1.045)">SC</text>
<text class="xl" transform="translate(782.70 1489.80) rotate(-45) scale(1 1.045)">SPAD</text>
<text class="xl" transform="translate(845.47 1489.80) rotate(-45) scale(1 1.045)">TSW</text>
<text class="xl" transform="translate(908.23 1489.80) rotate(-45) scale(1 1.045)">FP</text>
<text class="xl" transform="translate(971.00 1489.80) rotate(-45) scale(1 1.045)">NS</text>
<text class="xl" transform="translate(1033.77 1489.80) rotate(-45) scale(1 1.045)">PE</text>
<text class="xl" transform="translate(1096.53 1489.80) rotate(-45) scale(1 1.045)">CART</text>
<text class="xl" transform="translate(1159.30 1489.80) rotate(-45) scale(1 1.045)">APX</text>
<text class="xl" transform="translate(1222.06 1489.80) rotate(-45) scale(1 1.045)">GR</text>
<text class="xl" transform="translate(1284.83 1489.80) rotate(-45) scale(1 1.045)">TS</text>
<text class="xl" transform="translate(1347.59 1489.80) rotate(-45) scale(1 1.045)">TRE</text>
<text class="xl" transform="translate(1410.36 1489.80) rotate(-45) scale(1 1.045)">AsA</text>
<text class="xl" transform="translate(1473.12 1489.80) rotate(-45) scale(1 1.045)">PRO</text>
<text class="xl" transform="translate(1535.89 1489.80) rotate(-45) scale(1 1.045)">CAT</text>
<text class="xl" transform="translate(1598.65 1489.80) rotate(-45) scale(1 1.045)">SOD</text>
<text class="xl" transform="translate(1661.42 1489.80) rotate(-45) scale(1 1.045)">GSH</text>
</g>
<g>
<text class="lt" transform="translate(523.50 182.10) scale(1 1.015)">Pearson's</text>
<text class="lt" transform="translate(523.50 215.10) scale(1 1.015)">Correlation</text>
<rect x="403.6" y="233.7" width="240.19999999999993" height="40.400000000000034" fill="url(#lg)"/>
<path d="M403.60 233.7v9.5M403.60 274.1v-9.5" stroke="#fff" stroke-width="1.3" stroke-opacity="0.65" fill="none"/><text class="ll" transform="translate(403.60 307.00) scale(1 1.02)">-1.0</text>
<path d="M463.65 233.7v9.5M463.65 274.1v-9.5" stroke="#fff" stroke-width="1.3" stroke-opacity="0.65" fill="none"/><text class="ll" transform="translate(463.65 307.00) scale(1 1.02)">-0.5</text>
<path d="M523.70 233.7v9.5M523.70 274.1v-9.5" stroke="#fff" stroke-width="1.3" stroke-opacity="0.65" fill="none"/><text class="ll" transform="translate(523.70 307.00) scale(1 1.02)">0.0</text>
<path d="M583.75 233.7v9.5M583.75 274.1v-9.5" stroke="#fff" stroke-width="1.3" stroke-opacity="0.65" fill="none"/><text class="ll" transform="translate(583.75 307.00) scale(1 1.02)">0.5</text>
<path d="M643.80 233.7v9.5M643.80 274.1v-9.5" stroke="#fff" stroke-width="1.3" stroke-opacity="0.65" fill="none"/><text class="ll" transform="translate(643.80 307.00) scale(1 1.02)">1.0</text>
<text class="cap" transform="translate(1677.00 1583.80)">ns p &gt;= 0.05; * p &lt; 0.05; ** p &lt; 0.01; and *** p &lt; 0.001</text>
</g>
</svg>
</body>
</html>
